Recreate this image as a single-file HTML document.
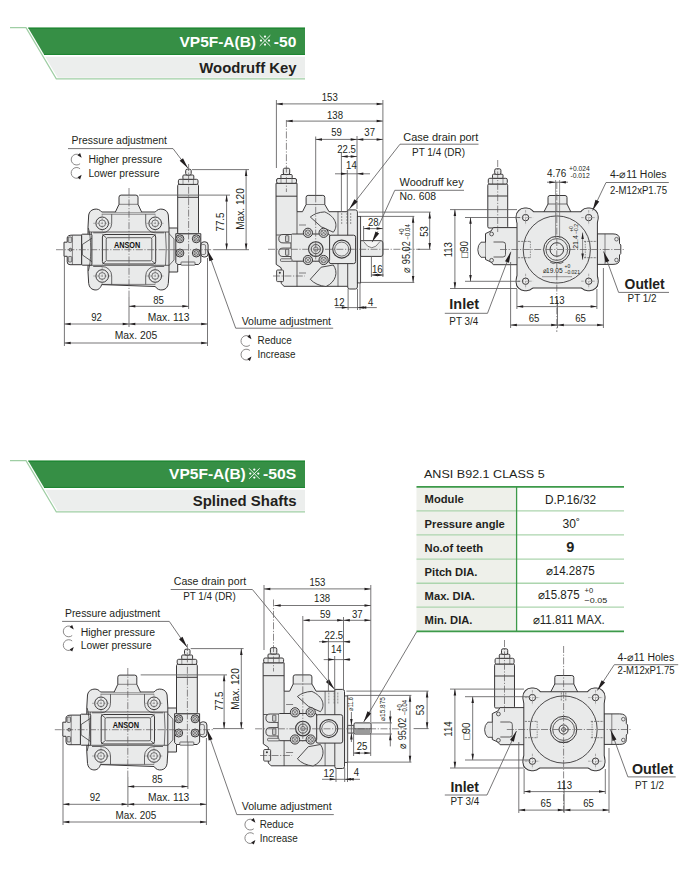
<!DOCTYPE html><html><head><meta charset="utf-8"><style>html,body{margin:0;padding:0;background:#fff}svg{display:block}text{font-family:"Liberation Sans",sans-serif}</style></head><body>
<svg width="700" height="870" viewBox="0 0 700 870">
<rect width="700" height="870" fill="#fff"/>
<g transform="translate(0 0)">
<polygon points="28,27.6 305,27.6 305,55 44.3,55" fill="#368f45"/>
<line x1="28.5" y1="28.3" x2="305" y2="28.3" stroke="#1c8631" stroke-width="1"/>
<line x1="44" y1="54.4" x2="305" y2="54.4" stroke="#1c8631" stroke-width="1"/>
<polygon points="45.3,56.8 305,56.8 305,77.8 57.8,77.8" fill="#eceeed"/>
<polyline points="10,27.6 26,27.6 56.3,78.9 305,78.9" fill="none" stroke="#9fcea4" stroke-width="1.2"/>
</g>
<g transform="translate(0 433)">
<polygon points="28,27.6 305,27.6 305,55 44.3,55" fill="#368f45"/>
<line x1="28.5" y1="28.3" x2="305" y2="28.3" stroke="#1c8631" stroke-width="1"/>
<line x1="44" y1="54.4" x2="305" y2="54.4" stroke="#1c8631" stroke-width="1"/>
<polygon points="45.3,56.8 305,56.8 305,77.8 57.8,77.8" fill="#eceeed"/>
<polyline points="10,27.6 26,27.6 56.3,78.9 305,78.9" fill="none" stroke="#9fcea4" stroke-width="1.2"/>
</g>
<text x="256" y="46.6" font-size="15.5" text-anchor="end" font-weight="bold" textLength="76.5" lengthAdjust="spacingAndGlyphs" fill="#ffffff">VP5F-A(B)</text>
<g stroke="#fff" stroke-width="0.9"><line x1="259.7" y1="35.300000000000004" x2="270.3" y2="45.9"/><line x1="259.7" y1="45.9" x2="270.3" y2="35.300000000000004"/></g>
<circle cx="265" cy="36.6" r="1.15" fill="#fff"/>
<circle cx="265" cy="44.6" r="1.15" fill="#fff"/>
<circle cx="261" cy="40.6" r="1.15" fill="#fff"/>
<circle cx="269" cy="40.6" r="1.15" fill="#fff"/>
<text x="296.3" y="46.6" font-size="15.5" text-anchor="end" font-weight="bold" textLength="22.5" lengthAdjust="spacingAndGlyphs" fill="#ffffff">-50</text>
<text x="296.5" y="73.2" font-size="15" text-anchor="end" font-weight="bold" textLength="97.2" lengthAdjust="spacingAndGlyphs" fill="#231f20">Woodruff Key</text>
<text x="245.8" y="479" font-size="15.5" text-anchor="end" font-weight="bold" textLength="76.7" lengthAdjust="spacingAndGlyphs" fill="#ffffff">VP5F-A(B)</text>
<g stroke="#fff" stroke-width="0.9"><line x1="249.0" y1="468.3" x2="259.6" y2="478.90000000000003"/><line x1="249.0" y1="478.90000000000003" x2="259.6" y2="468.3"/></g>
<circle cx="254.3" cy="469.6" r="1.15" fill="#fff"/>
<circle cx="254.3" cy="477.6" r="1.15" fill="#fff"/>
<circle cx="250.3" cy="473.6" r="1.15" fill="#fff"/>
<circle cx="258.3" cy="473.6" r="1.15" fill="#fff"/>
<text x="296.2" y="479" font-size="15.5" text-anchor="end" font-weight="bold" textLength="33.2" lengthAdjust="spacingAndGlyphs" fill="#ffffff">-50S</text>
<text x="296.5" y="506" font-size="15" text-anchor="end" font-weight="bold" textLength="103.8" lengthAdjust="spacingAndGlyphs" fill="#231f20">Splined Shafts</text>
<path d="M166,228 L177.7,228 L177.7,272 L168,272 L166,268 Z" fill="#e9eaea" stroke="#3a3839" stroke-width="1.0"/>
<path d="M168.5,233 L174,239 L174,260 L168.5,266" fill="none" stroke="#3a3839" stroke-width="0.7"/>
<path d="M101.7,212 L155.3,212 C157,209.5 160,208.6 163,209.3 C166,210 167.8,212 168.3,215 L169,227 L169,272 L168.3,283.5 C167.8,287 166,289.2 163,289.8 C160,290.4 157,289.5 155.3,286.5 L101.7,284.6 C100,289.5 97,290.4 94,289.8 C91,289.2 89.2,287 88.7,283.5 L88,272 L88,227 L88.7,215 C89.2,212 91,210 94,209.3 C97,208.6 100,209.5 101.7,212 Z" fill="#e9eaea" stroke="#3a3839" stroke-width="1.0"/>
<path d="M115.3,212.2 L119,204.3 L119,197.2 Q119,195.1 121.1,195.1 L135.9,195.1 Q138,195.1 138,197.2 L138,204.3 L141.7,212.2" fill="#e9eaea" stroke="#3a3839" stroke-width="1.0"/>
<line x1="119" y1="204.3" x2="138" y2="204.3" stroke="#3a3839" stroke-width="0.6"/>
<line x1="88" y1="232" x2="169" y2="232" stroke="#3a3839" stroke-width="0.8"/>
<line x1="88" y1="265.3" x2="169" y2="265.3" stroke="#3a3839" stroke-width="0.8"/>
<path d="M91.5,232 Q90,248.6 91.5,265.3" fill="none" stroke="#3a3839" stroke-width="0.7"/>
<path d="M165.5,232 Q167,248.6 165.5,265.3" fill="none" stroke="#3a3839" stroke-width="0.7"/>
<rect x="81.6" y="234.2" width="10.3" height="31" rx="1" fill="#e9eaea" stroke="#3a3839" stroke-width="1.0"/>
<path d="M91.9,238.2 L82.3,244.5 L82.3,254.9 L91.9,261.6" fill="none" stroke="#3a3839" stroke-width="0.8"/>
<path d="M81.6,235.1 L72.4,235.1 L72.4,235.1 Q67.2,235.1 67.2,238 L67.2,242.2 L64,242.2 L64,256.3 L67.2,256.3 L67.2,261.8 Q67.2,264.7 70,264.7 L81.6,264.7 Z" fill="#e9eaea" stroke="#3a3839" stroke-width="1.0"/>
<line x1="72.4" y1="235.1" x2="72.4" y2="264.7" stroke="#3a3839" stroke-width="0.6"/>
<rect x="68.2" y="237" width="3.6" height="5.5" rx="1" fill="#cfd0d0" stroke="#3a3839" stroke-width="0.7"/>
<rect x="68.2" y="256.5" width="3.6" height="5.5" rx="1" fill="#cfd0d0" stroke="#3a3839" stroke-width="0.7"/>
<circle cx="70.4" cy="249.7" r="1.4" fill="none" stroke="#3a3839" stroke-width="0.9"/>
<path d="M88.3,228 Q90.5,234 90.8,249.7 Q90.5,265 88.3,271" fill="none" stroke="#3a3839" stroke-width="0.8"/>
<line x1="101.7" y1="214.2" x2="155.3" y2="214.2" stroke="#3a3839" stroke-width="0.6"/>
<line x1="101.7" y1="284.4" x2="155.3" y2="284.4" stroke="#3a3839" stroke-width="0.6"/>
<circle cx="102.2" cy="223.3" r="6.3" fill="none" stroke="#3a3839" stroke-width="1.0"/>
<circle cx="102.2" cy="223.3" r="3.4" fill="none" stroke="#3a3839" stroke-width="0.7"/>
<line x1="93.2" y1="223.3" x2="111.2" y2="223.3" stroke="#6a6a6a" stroke-width="0.5" stroke-dasharray="2.5 1.2"/>
<line x1="102.2" y1="214.3" x2="102.2" y2="232.3" stroke="#6a6a6a" stroke-width="0.5" stroke-dasharray="2.5 1.2"/>
<path d="M111.7,214.2 L111.7,223.3 A9.5,9.5 0 0 1 102.2,232.8 L93.2,232.8" fill="none" stroke="#3a3839" stroke-width="0.75"/>
<circle cx="155.2" cy="223.3" r="6.3" fill="none" stroke="#3a3839" stroke-width="1.0"/>
<circle cx="155.2" cy="223.3" r="3.4" fill="none" stroke="#3a3839" stroke-width="0.7"/>
<line x1="146.2" y1="223.3" x2="164.2" y2="223.3" stroke="#6a6a6a" stroke-width="0.5" stroke-dasharray="2.5 1.2"/>
<line x1="155.2" y1="214.3" x2="155.2" y2="232.3" stroke="#6a6a6a" stroke-width="0.5" stroke-dasharray="2.5 1.2"/>
<path d="M145.7,214.2 L145.7,223.3 A9.5,9.5 0 0 0 155.2,232.8 L164.2,232.8" fill="none" stroke="#3a3839" stroke-width="0.75"/>
<circle cx="102.2" cy="276" r="6.3" fill="none" stroke="#3a3839" stroke-width="1.0"/>
<circle cx="102.2" cy="276" r="3.4" fill="none" stroke="#3a3839" stroke-width="0.7"/>
<line x1="93.2" y1="276" x2="111.2" y2="276" stroke="#6a6a6a" stroke-width="0.5" stroke-dasharray="2.5 1.2"/>
<line x1="102.2" y1="267" x2="102.2" y2="285" stroke="#6a6a6a" stroke-width="0.5" stroke-dasharray="2.5 1.2"/>
<path d="M111.7,284.4 L111.7,276 A9.5,9.5 0 0 0 102.2,266.5 L93.2,266.5" fill="none" stroke="#3a3839" stroke-width="0.75"/>
<circle cx="155.2" cy="276" r="6.3" fill="none" stroke="#3a3839" stroke-width="1.0"/>
<circle cx="155.2" cy="276" r="3.4" fill="none" stroke="#3a3839" stroke-width="0.7"/>
<line x1="146.2" y1="276" x2="164.2" y2="276" stroke="#6a6a6a" stroke-width="0.5" stroke-dasharray="2.5 1.2"/>
<line x1="155.2" y1="267" x2="155.2" y2="285" stroke="#6a6a6a" stroke-width="0.5" stroke-dasharray="2.5 1.2"/>
<path d="M145.7,284.4 L145.7,276 A9.5,9.5 0 0 1 155.2,266.5 L164.2,266.5" fill="none" stroke="#3a3839" stroke-width="0.75"/>
<rect x="102.4" y="234.5" width="53.3" height="29.5" rx="2.5" fill="#e9eaea" stroke="#3a3839" stroke-width="1.0"/>
<rect x="106.2" y="237.7" width="45.6" height="23.1" rx="1.5" fill="none" stroke="#3a3839" stroke-width="0.8"/>
<line x1="102.4" y1="234.5" x2="106.2" y2="237.7" stroke="#3a3839" stroke-width="0.8"/>
<line x1="155.7" y1="234.5" x2="151.8" y2="237.7" stroke="#3a3839" stroke-width="0.8"/>
<line x1="102.4" y1="264" x2="106.2" y2="260.8" stroke="#3a3839" stroke-width="0.8"/>
<line x1="155.7" y1="264" x2="151.8" y2="260.8" stroke="#3a3839" stroke-width="0.8"/>
<text x="127.1" y="247.5" font-size="8.8" text-anchor="middle" font-weight="bold" textLength="26.4" lengthAdjust="spacingAndGlyphs" fill="#111111">ANSON</text>
<path d="M175.8,233.7 L200.8,233.7 L200.8,262 L198.5,264.5 L177.8,264.5 L175.8,262.5 Z" fill="#e9eaea" stroke="#3a3839" stroke-width="1.0"/>
<rect x="181" y="262" width="14" height="3.2" rx="0.6" fill="#e9eaea" stroke="#3a3839" stroke-width="0.7"/>
<rect x="177.7" y="184.4" width="20.8" height="49.3" rx="1.2" fill="#e9eaea" stroke="#3a3839" stroke-width="1.0"/>
<line x1="177.7" y1="197.3" x2="198.5" y2="197.3" stroke="#3a3839" stroke-width="1.0"/>
<rect x="178.4" y="179.3" width="19.6" height="5.1" rx="1.5" fill="#e9eaea" stroke="#3a3839" stroke-width="1.0"/>
<line x1="183" y1="179.3" x2="183" y2="184.4" stroke="#3a3839" stroke-width="0.5"/>
<line x1="193.4" y1="179.3" x2="193.4" y2="184.4" stroke="#3a3839" stroke-width="0.5"/>
<rect x="182.9" y="175" width="10.9" height="4.3" rx="1" fill="#e9eaea" stroke="#3a3839" stroke-width="1.0"/>
<rect x="185.7" y="169.2" width="5.5" height="5.8" rx="1.5" fill="#e9eaea" stroke="#3a3839" stroke-width="1.0"/>
<circle cx="179.9" cy="238.8" r="4.0" fill="#d6d7d7" stroke="#3a3839" stroke-width="1.0"/>
<circle cx="179.9" cy="238.8" r="2.4" fill="none" stroke="#3a3839" stroke-width="0.6"/>
<line x1="177.9" y1="236.8" x2="181.9" y2="240.8" stroke="#3a3839" stroke-width="0.5"/>
<line x1="177.9" y1="240.8" x2="181.9" y2="236.8" stroke="#3a3839" stroke-width="0.5"/>
<circle cx="196.3" cy="238.8" r="4.0" fill="#d6d7d7" stroke="#3a3839" stroke-width="1.0"/>
<circle cx="196.3" cy="238.8" r="2.4" fill="none" stroke="#3a3839" stroke-width="0.6"/>
<line x1="194.3" y1="236.8" x2="198.3" y2="240.8" stroke="#3a3839" stroke-width="0.5"/>
<line x1="194.3" y1="240.8" x2="198.3" y2="236.8" stroke="#3a3839" stroke-width="0.5"/>
<circle cx="179.9" cy="253" r="4.0" fill="#d6d7d7" stroke="#3a3839" stroke-width="1.0"/>
<circle cx="179.9" cy="253" r="2.4" fill="none" stroke="#3a3839" stroke-width="0.6"/>
<line x1="177.9" y1="251.0" x2="181.9" y2="255.0" stroke="#3a3839" stroke-width="0.5"/>
<line x1="177.9" y1="255.0" x2="181.9" y2="251.0" stroke="#3a3839" stroke-width="0.5"/>
<circle cx="196.3" cy="253" r="4.0" fill="#d6d7d7" stroke="#3a3839" stroke-width="1.0"/>
<circle cx="196.3" cy="253" r="2.4" fill="none" stroke="#3a3839" stroke-width="0.6"/>
<line x1="194.3" y1="251.0" x2="198.3" y2="255.0" stroke="#3a3839" stroke-width="0.5"/>
<line x1="194.3" y1="255.0" x2="198.3" y2="251.0" stroke="#3a3839" stroke-width="0.5"/>
<rect x="200.8" y="241.8" width="7.3" height="15.2" rx="3.2" fill="#e9eaea" stroke="#3a3839" stroke-width="1.0"/>
<rect x="200.8" y="244.5" width="4.8" height="10" rx="1.5" fill="none" stroke="#3a3839" stroke-width="0.6"/>
<line x1="56" y1="249.7" x2="215" y2="249.7" stroke="#5a5859" stroke-width="0.7" stroke-dasharray="7 1.6 1.2 1.6"/>
<line x1="129" y1="188" x2="129" y2="297" stroke="#5a5859" stroke-width="0.7" stroke-dasharray="7 1.6 1.2 1.6"/>
<line x1="188.6" y1="164" x2="188.6" y2="262" stroke="#5a5859" stroke-width="0.7" stroke-dasharray="7 1.6 1.2 1.6"/>
<path d="M276,183.3 L297,183.3 L297,211.7 L302.5,211.7 L306.1,204.5 L306.1,197.4 Q306.1,195.4 308.1,195.4 L322.8,195.4 Q324.8,195.4 324.8,197.4 L324.8,204.5 L329,211.7 L347.7,211.7 L347.7,209.9 L355.4,209.9 Q357.4,209.9 357.4,211.9 L357.4,287 Q357.4,289 355.4,289 L349.7,289 Q347.7,289 347.7,287 L347.7,286.3 L284,286.3 L281.2,283.5 L281.2,267.8 L276.2,264.4 Z" fill="#e9eaea" stroke="#3a3839" stroke-width="1.0"/>
<line x1="306.1" y1="204.5" x2="324.8" y2="204.5" stroke="#3a3839" stroke-width="0.6"/>
<line x1="297" y1="211.7" x2="297" y2="286.5" stroke="#3a3839" stroke-width="0.8"/>
<line x1="347.7" y1="211.7" x2="347.7" y2="286.5" stroke="#3a3839" stroke-width="0.9"/>
<line x1="338" y1="211.7" x2="338" y2="235.2" stroke="#3a3839" stroke-width="0.7"/>
<line x1="338" y1="263.6" x2="338" y2="286.5" stroke="#3a3839" stroke-width="0.7"/>
<line x1="276.2" y1="235" x2="291" y2="235" stroke="#3a3839" stroke-width="0.8"/>
<rect x="357.4" y="216.4" width="3.2" height="66.5" rx="0" fill="#e9eaea" stroke="#3a3839" stroke-width="0.9"/>
<rect x="276.6" y="178.5" width="19.9" height="4.8" rx="1.5" fill="#e9eaea" stroke="#3a3839" stroke-width="1.0"/>
<line x1="281" y1="178.5" x2="281" y2="183.3" stroke="#3a3839" stroke-width="0.5"/>
<line x1="292" y1="178.5" x2="292" y2="183.3" stroke="#3a3839" stroke-width="0.5"/>
<rect x="280.9" y="174.5" width="11.3" height="4" rx="1" fill="#e9eaea" stroke="#3a3839" stroke-width="1.0"/>
<rect x="283.3" y="168.2" width="6.4" height="6.3" rx="1.5" fill="#e9eaea" stroke="#3a3839" stroke-width="1.0"/>
<line x1="276" y1="196.2" x2="297" y2="196.2" stroke="#3a3839" stroke-width="1.0"/>
<path d="M310.3,217 Q316,212.3 324.8,211.9 C336,217 338.5,226 333.3,232.2 L321.2,226.8 Z" fill="#e9eaea" stroke="#3a3839" stroke-width="0.9"/>
<path d="M310.3,279.3 Q316,285.5 326,286.5 C336,282 338.5,272 333.3,265 L321.2,267.2 Z" fill="#e9eaea" stroke="#3a3839" stroke-width="0.9"/>
<line x1="299" y1="225" x2="306" y2="225" stroke="#3a3839" stroke-width="0.6"/>
<line x1="299" y1="273" x2="306" y2="273" stroke="#3a3839" stroke-width="0.6"/>
<rect x="329" y="235.2" width="26.6" height="28.4" rx="2" fill="#e9eaea" stroke="#3a3839" stroke-width="1.0"/>
<circle cx="341.7" cy="249.1" r="9" fill="#e9eaea" stroke="#3a3839" stroke-width="1.1"/>
<circle cx="341.7" cy="249.1" r="7" fill="none" stroke="#3a3839" stroke-width="0.7"/>
<rect x="291" y="234" width="38.6" height="27.2" rx="1.5" fill="#e9eaea" stroke="#3a3839" stroke-width="1.0"/>
<path d="M291,234.5 L283,234.5 Q278.8,234.5 278.8,238.7 Q278.8,242.89999999999998 283,242.89999999999998 L291,242.89999999999998" fill="#e9eaea" stroke="#3a3839" stroke-width="0.9"/>
<rect x="285.5" y="235.7" width="3.3" height="6" rx="0.5" fill="#cfd0d0" stroke="#3a3839" stroke-width="0.7"/>
<path d="M291,248.10000000000002 L283,248.10000000000002 Q278.8,248.10000000000002 278.8,252.3 Q278.8,256.5 283,256.5 L291,256.5" fill="#e9eaea" stroke="#3a3839" stroke-width="0.9"/>
<rect x="285.5" y="249.3" width="3.3" height="6" rx="0.5" fill="#cfd0d0" stroke="#3a3839" stroke-width="0.7"/>
<rect x="280.5" y="258.8" width="11.5" height="2.6" rx="0.8" fill="#e9eaea" stroke="#3a3839" stroke-width="0.7"/>
<circle cx="315.8" cy="249.1" r="7.3" fill="#dcdddd" stroke="#3a3839" stroke-width="1.1"/>
<circle cx="315.8" cy="249.1" r="4.6" fill="none" stroke="#3a3839" stroke-width="0.8"/>
<circle cx="315.8" cy="249.1" r="2.2" fill="none" stroke="#3a3839" stroke-width="0.6"/>
<circle cx="307.9" cy="232.8" r="4.6" fill="#d6d7d7" stroke="#3a3839" stroke-width="1.0"/>
<circle cx="307.9" cy="232.8" r="2.76" fill="none" stroke="#3a3839" stroke-width="0.6"/>
<line x1="305.59999999999997" y1="230.5" x2="310.2" y2="235.10000000000002" stroke="#3a3839" stroke-width="0.5"/>
<line x1="305.59999999999997" y1="235.10000000000002" x2="310.2" y2="230.5" stroke="#3a3839" stroke-width="0.5"/>
<circle cx="323.6" cy="232.8" r="4.6" fill="#d6d7d7" stroke="#3a3839" stroke-width="1.0"/>
<circle cx="323.6" cy="232.8" r="2.76" fill="none" stroke="#3a3839" stroke-width="0.6"/>
<line x1="321.3" y1="230.5" x2="325.90000000000003" y2="235.10000000000002" stroke="#3a3839" stroke-width="0.5"/>
<line x1="321.3" y1="235.10000000000002" x2="325.90000000000003" y2="230.5" stroke="#3a3839" stroke-width="0.5"/>
<circle cx="307.9" cy="260" r="4.6" fill="#d6d7d7" stroke="#3a3839" stroke-width="1.0"/>
<circle cx="307.9" cy="260" r="2.76" fill="none" stroke="#3a3839" stroke-width="0.6"/>
<line x1="305.59999999999997" y1="257.7" x2="310.2" y2="262.3" stroke="#3a3839" stroke-width="0.5"/>
<line x1="305.59999999999997" y1="262.3" x2="310.2" y2="257.7" stroke="#3a3839" stroke-width="0.5"/>
<circle cx="323.6" cy="260" r="4.6" fill="#d6d7d7" stroke="#3a3839" stroke-width="1.0"/>
<circle cx="323.6" cy="260" r="2.76" fill="none" stroke="#3a3839" stroke-width="0.6"/>
<line x1="321.3" y1="257.7" x2="325.90000000000003" y2="262.3" stroke="#3a3839" stroke-width="0.5"/>
<line x1="321.3" y1="262.3" x2="325.90000000000003" y2="257.7" stroke="#3a3839" stroke-width="0.5"/>
<rect x="276.6" y="270" width="6.9" height="11.6" rx="1" fill="#e9eaea" stroke="#3a3839" stroke-width="0.9"/>
<circle cx="279.8" cy="272.8" r="1" fill="#333" stroke="#3a3839" stroke-width="0"/>
<line x1="341.7" y1="213" x2="341.7" y2="225" stroke="#555" stroke-width="0.6" stroke-dasharray="2 1"/>
<line x1="347" y1="213" x2="347" y2="225" stroke="#555" stroke-width="0.6" stroke-dasharray="2 1"/>
<line x1="350.7" y1="213" x2="350.7" y2="225" stroke="#555" stroke-width="0.6" stroke-dasharray="2 1"/>
<path d="M360.6,240.7 L381,240.7 Q382.9,240.7 382.9,243 L382.9,254 Q382.9,256.4 381,256.4 L360.6,256.4 Z" fill="#e9eaea" stroke="#3a3839" stroke-width="1.0"/>
<path d="M363.6,241.5 Q371.8,254 380,241.5" fill="#f4f4f4" stroke="#3a3839" stroke-width="0.6"/>
<line x1="268" y1="249.3" x2="420" y2="249.3" stroke="#5a5859" stroke-width="0.7" stroke-dasharray="7 1.6 1.2 1.6"/>
<line x1="286.4" y1="120" x2="286.4" y2="192" stroke="#5a5859" stroke-width="0.7" stroke-dasharray="7 1.6 1.2 1.6"/>
<line x1="315.7" y1="136.5" x2="315.7" y2="195.4" stroke="#5f5d5e" stroke-width="0.85"/>
<line x1="315.7" y1="195.4" x2="315.7" y2="262" stroke="#5a5859" stroke-width="0.7" stroke-dasharray="7 1.6 1.2 1.6"/>
<line x1="273" y1="276" x2="305" y2="276" stroke="#5a5859" stroke-width="0.7" stroke-dasharray="7 1.6 1.2 1.6"/>
<rect x="487.8" y="184" width="19.9" height="44" rx="1.2" fill="#e9eaea" stroke="#3a3839" stroke-width="1.0"/>
<line x1="487.8" y1="196" x2="507.7" y2="196" stroke="#3a3839" stroke-width="1.0"/>
<rect x="488.3" y="178.3" width="19" height="5.7" rx="1.5" fill="#e9eaea" stroke="#3a3839" stroke-width="1.0"/>
<line x1="492.6" y1="178.3" x2="492.6" y2="184" stroke="#3a3839" stroke-width="0.5"/>
<line x1="503" y1="178.3" x2="503" y2="184" stroke="#3a3839" stroke-width="0.5"/>
<rect x="492.5" y="174.2" width="10.5" height="4.1" rx="1" fill="#e9eaea" stroke="#3a3839" stroke-width="1.0"/>
<rect x="494.7" y="168.8" width="6.2" height="5.6" rx="1.5" fill="#e9eaea" stroke="#3a3839" stroke-width="1.0"/>
<path d="M493.3,227.6 L518,227.6 L518,264.7 L493.3,264.7 L491,262 L485.5,259.5 L485.5,233.6 L491,231 Z" fill="#e9eaea" stroke="#3a3839" stroke-width="1.0"/>
<path d="M493.5,242 L503,242 Q505.5,242 505.5,244.5 L505.5,254.5 Q505.5,257 503,257 L493.5,257" fill="none" stroke="#3a3839" stroke-width="0.8"/>
<path d="M485.5,242.2 L481,242.2 Q477.8,245 477.8,249.7 Q477.8,254.5 481,257.3 L485.5,257.3" fill="#e9eaea" stroke="#3a3839" stroke-width="0.9"/>
<circle cx="491.6" cy="234" r="1.9" fill="#e9eaea" stroke="#3a3839" stroke-width="0.8"/>
<circle cx="491.6" cy="260.3" r="1.9" fill="#e9eaea" stroke="#3a3839" stroke-width="0.8"/>
<path d="M597,233.9 L613,233.9 Q619.5,233.9 619.5,239 L619.5,243.5 L620.8,245 L620.8,253.5 L619.5,255 L619.5,259.5 Q619.5,264.4 613,264.4 L597,264.4 Z" fill="#e9eaea" stroke="#3a3839" stroke-width="1.0"/>
<circle cx="616.5" cy="239.2" r="1.8" fill="none" stroke="#3a3839" stroke-width="0.7"/>
<circle cx="616.5" cy="260" r="1.8" fill="none" stroke="#3a3839" stroke-width="0.7"/>
<line x1="605" y1="233.9" x2="605" y2="264.4" stroke="#3a3839" stroke-width="0.6"/>
<path d="M543.7,212.3 L548,204 L548,197.5 Q548,195.5 550,195.5 L565,195.5 Q567,195.5 567,197.5 L567,204 L571.1,212.3" fill="#e9eaea" stroke="#3a3839" stroke-width="1.0"/>
<line x1="548" y1="204" x2="567" y2="204" stroke="#3a3839" stroke-width="0.7"/>
<rect x="517.5" y="212.2" width="79.4" height="75.3" rx="3" fill="#3a3839" stroke="#3a3839" stroke-width="2.0"/>
<rect x="516.6" y="208.6" width="18" height="18" rx="8" fill="#3a3839" stroke="#3a3839" stroke-width="2.0"/>
<rect x="579.7" y="208.6" width="18" height="18" rx="8" fill="#3a3839" stroke="#3a3839" stroke-width="2.0"/>
<rect x="516.6" y="272.2" width="18" height="18" rx="8" fill="#3a3839" stroke="#3a3839" stroke-width="2.0"/>
<rect x="579.7" y="272.2" width="18" height="18" rx="8" fill="#3a3839" stroke="#3a3839" stroke-width="2.0"/>
<rect x="517.5" y="212.2" width="79.4" height="75.3" rx="3" fill="#e9eaea" stroke="none" stroke-width="0"/>
<rect x="516.6" y="208.6" width="18" height="18" rx="8" fill="#e9eaea" stroke="none" stroke-width="0"/>
<rect x="579.7" y="208.6" width="18" height="18" rx="8" fill="#e9eaea" stroke="none" stroke-width="0"/>
<rect x="516.6" y="272.2" width="18" height="18" rx="8" fill="#e9eaea" stroke="none" stroke-width="0"/>
<rect x="579.7" y="272.2" width="18" height="18" rx="8" fill="#e9eaea" stroke="none" stroke-width="0"/>
<circle cx="525.6" cy="217.6" r="3.2" fill="#f3f3f3" stroke="#3a3839" stroke-width="1.0"/>
<line x1="518.1" y1="217.6" x2="533.1" y2="217.6" stroke="#666" stroke-width="0.5" stroke-dasharray="2.5 1.2"/>
<line x1="525.6" y1="210.1" x2="525.6" y2="225.1" stroke="#666" stroke-width="0.5" stroke-dasharray="2.5 1.2"/>
<circle cx="588.7" cy="217.6" r="3.2" fill="#f3f3f3" stroke="#3a3839" stroke-width="1.0"/>
<line x1="581.2" y1="217.6" x2="596.2" y2="217.6" stroke="#666" stroke-width="0.5" stroke-dasharray="2.5 1.2"/>
<line x1="588.7" y1="210.1" x2="588.7" y2="225.1" stroke="#666" stroke-width="0.5" stroke-dasharray="2.5 1.2"/>
<circle cx="525.6" cy="281.2" r="3.2" fill="#f3f3f3" stroke="#3a3839" stroke-width="1.0"/>
<line x1="518.1" y1="281.2" x2="533.1" y2="281.2" stroke="#666" stroke-width="0.5" stroke-dasharray="2.5 1.2"/>
<line x1="525.6" y1="273.7" x2="525.6" y2="288.7" stroke="#666" stroke-width="0.5" stroke-dasharray="2.5 1.2"/>
<circle cx="588.7" cy="281.2" r="3.2" fill="#f3f3f3" stroke="#3a3839" stroke-width="1.0"/>
<line x1="581.2" y1="281.2" x2="596.2" y2="281.2" stroke="#666" stroke-width="0.5" stroke-dasharray="2.5 1.2"/>
<line x1="588.7" y1="273.7" x2="588.7" y2="288.7" stroke="#666" stroke-width="0.5" stroke-dasharray="2.5 1.2"/>
<circle cx="556.8" cy="249.5" r="33.6" fill="none" stroke="#3a3839" stroke-width="0.9"/>
<circle cx="556.8" cy="249.5" r="13.2" fill="#e9eaea" stroke="#3a3839" stroke-width="1.0"/>
<circle cx="556.8" cy="249.5" r="10.9" fill="none" stroke="#3a3839" stroke-width="0.8"/>
<circle cx="556.8" cy="249.5" r="6.8" fill="#e9eaea" stroke="#3a3839" stroke-width="1.0"/>
<line x1="518" y1="241.4" x2="531" y2="241.4" stroke="#555" stroke-width="0.7" stroke-dasharray="2.2 1"/>
<line x1="584" y1="241.4" x2="597" y2="241.4" stroke="#555" stroke-width="0.7" stroke-dasharray="2.2 1"/>
<line x1="518" y1="257.7" x2="531" y2="257.7" stroke="#555" stroke-width="0.7" stroke-dasharray="2.2 1"/>
<line x1="584" y1="257.7" x2="597" y2="257.7" stroke="#555" stroke-width="0.7" stroke-dasharray="2.2 1"/>
<line x1="530.4" y1="241.4" x2="530.4" y2="257.7" stroke="#555" stroke-width="0.6" stroke-dasharray="1.5 1"/>
<line x1="585.3" y1="241.4" x2="585.3" y2="257.7" stroke="#555" stroke-width="0.6" stroke-dasharray="1.5 1"/>
<line x1="555.6" y1="180" x2="555.6" y2="238" stroke="#666" stroke-width="0.7"/>
<line x1="559.6" y1="180" x2="559.6" y2="238" stroke="#666" stroke-width="0.7"/>
<line x1="582.6" y1="232.6" x2="582.6" y2="259.7" stroke="#5f5d5e" stroke-width="0.7"/>
<polygon points="582.60,232.60 581.35,238.90 583.85,238.90" fill="#231f20"/>
<polygon points="582.60,259.70 583.85,253.40 581.35,253.40" fill="#231f20"/>
<text x="577.5" y="242" font-size="7.49" text-anchor="middle" textLength="13.62" lengthAdjust="spacingAndGlyphs" transform="rotate(-90 577.5 242)" fill="#231f20">21.4</text>
<text x="572.5" y="229" font-size="5.35" text-anchor="middle" textLength="5.7" lengthAdjust="spacingAndGlyphs" transform="rotate(-90 572.5 229)" fill="#231f20">+0</text>
<text x="577.5" y="229" font-size="5.35" text-anchor="middle" textLength="9.87" lengthAdjust="spacingAndGlyphs" transform="rotate(-90 577.5 229)" fill="#231f20">−0.2</text>
<text x="542.6" y="272.6" font-size="7.49" textLength="20" lengthAdjust="spacingAndGlyphs" fill="#231f20">⌀19.05</text>
<text x="564.5" y="268" font-size="5.35" textLength="5.7" lengthAdjust="spacingAndGlyphs" fill="#231f20">+0</text>
<text x="564.5" y="273.5" font-size="5.35" textLength="15.43" lengthAdjust="spacingAndGlyphs" fill="#231f20">−0.021</text>
<line x1="542" y1="276.7" x2="572" y2="276.7" stroke="#5f5d5e" stroke-width="0.6"/>
<path d="M550,262 Q553,265 556.8,262.5 Q560.5,265 563.5,262" fill="none" stroke="#3a3839" stroke-width="0.7"/>
<line x1="500" y1="249.5" x2="625" y2="249.5" stroke="#5a5859" stroke-width="0.7" stroke-dasharray="7 1.6 1.2 1.6"/>
<line x1="556.8" y1="182" x2="556.8" y2="332" stroke="#5a5859" stroke-width="0.7" stroke-dasharray="7 1.6 1.2 1.6"/>
<line x1="497.7" y1="160" x2="497.7" y2="232" stroke="#5a5859" stroke-width="0.7" stroke-dasharray="7 1.6 1.2 1.6"/>
<text x="71.6" y="144" font-size="10.59" textLength="95.4" lengthAdjust="spacingAndGlyphs" fill="#231f20">Pressure adjustment</text>
<polyline points="68,148.6 173,148.6 188,168.3" fill="none" stroke="#5f5d5e" stroke-width="0.85"/>
<polygon points="188.00,168.30 183.01,158.28 179.67,160.82" fill="#231f20"/>
<path d="M80.86,156.28 A5.4,5.4 0 1 0 80.07,163.74" fill="none" stroke="#858383" stroke-width="0.95"/>
<polygon points="81.67,157.75 80.10,153.11 77.46,155.25" fill="#231f20"/>
<text x="88.4" y="163.4" font-size="10.59" textLength="74" lengthAdjust="spacingAndGlyphs" fill="#231f20">Higher pressure</text>
<path d="M80.07,168.76 A5.4,5.4 0 1 0 80.86,176.22" fill="none" stroke="#858383" stroke-width="0.95"/>
<polygon points="81.67,174.75 77.46,177.25 80.10,179.39" fill="#231f20"/>
<text x="88.4" y="177" font-size="10.59" textLength="71" lengthAdjust="spacingAndGlyphs" fill="#231f20">Lower pressure</text>
<line x1="64.4" y1="256.5" x2="64.4" y2="346" stroke="#5f5d5e" stroke-width="0.85"/>
<line x1="207.5" y1="258" x2="207.5" y2="346" stroke="#5f5d5e" stroke-width="0.85"/>
<line x1="188.6" y1="262" x2="188.6" y2="309" stroke="#5f5d5e" stroke-width="0.85"/>
<line x1="129" y1="297" x2="129" y2="327" stroke="#5f5d5e" stroke-width="0.85"/>
<line x1="129" y1="306.3" x2="188.6" y2="306.3" stroke="#5f5d5e" stroke-width="0.85"/>
<polygon points="129.00,306.30 135.30,307.55 135.30,305.05" fill="#231f20"/>
<polygon points="188.60,306.30 182.30,305.05 182.30,307.55" fill="#231f20"/>
<text x="158.5" y="303.6" font-size="10.27" text-anchor="middle" textLength="10.68" lengthAdjust="spacingAndGlyphs" fill="#231f20">85</text>
<line x1="64.4" y1="324" x2="129" y2="324" stroke="#5f5d5e" stroke-width="0.85"/>
<polygon points="64.40,324.00 70.70,325.25 70.70,322.75" fill="#231f20"/>
<polygon points="129.00,324.00 122.70,322.75 122.70,325.25" fill="#231f20"/>
<text x="96.5" y="320.8" font-size="10.27" text-anchor="middle" textLength="10.68" lengthAdjust="spacingAndGlyphs" fill="#231f20">92</text>
<line x1="129" y1="324" x2="207.5" y2="324" stroke="#5f5d5e" stroke-width="0.85"/>
<polygon points="129.00,324.00 135.30,325.25 135.30,322.75" fill="#231f20"/>
<polygon points="207.50,324.00 201.20,322.75 201.20,325.25" fill="#231f20"/>
<text x="168.6" y="320.8" font-size="10.59" text-anchor="middle" textLength="41.6" lengthAdjust="spacingAndGlyphs" fill="#231f20">Max. 113</text>
<line x1="64.4" y1="343" x2="207.5" y2="343" stroke="#5f5d5e" stroke-width="0.85"/>
<polygon points="64.40,343.00 70.70,344.25 70.70,341.75" fill="#231f20"/>
<polygon points="207.50,343.00 201.20,341.75 201.20,344.25" fill="#231f20"/>
<text x="136" y="339" font-size="10.59" text-anchor="middle" textLength="42.6" lengthAdjust="spacingAndGlyphs" fill="#231f20">Max. 205</text>
<line x1="192" y1="169.6" x2="249" y2="169.6" stroke="#5f5d5e" stroke-width="0.85"/>
<line x1="139" y1="195.1" x2="230" y2="195.1" stroke="#5f5d5e" stroke-width="0.85"/>
<line x1="214" y1="249.7" x2="249" y2="249.7" stroke="#5f5d5e" stroke-width="0.85"/>
<line x1="226.6" y1="195.1" x2="226.6" y2="249.7" stroke="#5f5d5e" stroke-width="0.85"/>
<polygon points="226.60,195.10 225.35,201.40 227.85,201.40" fill="#231f20"/>
<polygon points="226.60,249.70 227.85,243.40 225.35,243.40" fill="#231f20"/>
<text x="224.4" y="222" font-size="10.27" text-anchor="middle" textLength="19" lengthAdjust="spacingAndGlyphs" transform="rotate(-90 224.4 222)" fill="#231f20">77.5</text>
<line x1="246.1" y1="169.6" x2="246.1" y2="249.7" stroke="#5f5d5e" stroke-width="0.85"/>
<polygon points="246.10,169.60 244.85,175.90 247.35,175.90" fill="#231f20"/>
<polygon points="246.10,249.70 247.35,243.40 244.85,243.40" fill="#231f20"/>
<text x="243.8" y="209" font-size="10.59" text-anchor="middle" textLength="41.7" lengthAdjust="spacingAndGlyphs" transform="rotate(-90 243.8 209)" fill="#231f20">Max. 120</text>
<polyline points="333.2,328.2 235.7,328.2 207.6,250.2" fill="none" stroke="#5f5d5e" stroke-width="0.85"/>
<polygon points="207.60,250.20 209.35,261.26 213.30,259.84" fill="#231f20"/>
<text x="241.7" y="325.4" font-size="10.59" textLength="89.3" lengthAdjust="spacingAndGlyphs" fill="#231f20">Volume adjustment</text>
<path d="M250.66,337.68 A5.4,5.4 0 1 0 249.87,345.14" fill="none" stroke="#858383" stroke-width="0.95"/>
<polygon points="251.47,339.15 249.90,334.51 247.26,336.65" fill="#231f20"/>
<text x="257.6" y="344.3" font-size="10.59" textLength="34.12" lengthAdjust="spacingAndGlyphs" fill="#231f20">Reduce</text>
<path d="M249.87,350.46 A5.4,5.4 0 1 0 250.66,357.92" fill="none" stroke="#858383" stroke-width="0.95"/>
<polygon points="251.47,356.45 247.26,358.95 249.90,361.09" fill="#231f20"/>
<text x="257.6" y="358.2" font-size="10.59" textLength="37.97" lengthAdjust="spacingAndGlyphs" fill="#231f20">Increase</text>
<line x1="276.4" y1="100" x2="276.4" y2="168" stroke="#5f5d5e" stroke-width="0.85"/>
<line x1="382.9" y1="100" x2="382.9" y2="277" stroke="#5f5d5e" stroke-width="0.85"/>
<line x1="357" y1="136" x2="357" y2="209" stroke="#5f5d5e" stroke-width="0.85"/>
<line x1="276.4" y1="103.9" x2="382.9" y2="103.9" stroke="#5f5d5e" stroke-width="0.85"/>
<polygon points="276.40,103.90 282.70,105.15 282.70,102.65" fill="#231f20"/>
<polygon points="382.90,103.90 376.60,102.65 376.60,105.15" fill="#231f20"/>
<text x="329.8" y="101.3" font-size="10.27" text-anchor="middle" textLength="16.02" lengthAdjust="spacingAndGlyphs" fill="#231f20">153</text>
<line x1="286.4" y1="121.1" x2="382.9" y2="121.1" stroke="#5f5d5e" stroke-width="0.85"/>
<polygon points="286.40,121.10 292.70,122.35 292.70,119.85" fill="#231f20"/>
<polygon points="382.90,121.10 376.60,119.85 376.60,122.35" fill="#231f20"/>
<text x="335" y="118.6" font-size="10.27" text-anchor="middle" textLength="16.02" lengthAdjust="spacingAndGlyphs" fill="#231f20">138</text>
<line x1="315.7" y1="139.4" x2="357" y2="139.4" stroke="#5f5d5e" stroke-width="0.85"/>
<polygon points="315.70,139.40 322.00,140.65 322.00,138.15" fill="#231f20"/>
<polygon points="357.00,139.40 350.70,138.15 350.70,140.65" fill="#231f20"/>
<line x1="357" y1="139.4" x2="382.9" y2="139.4" stroke="#5f5d5e" stroke-width="0.85"/>
<polygon points="357.00,139.40 363.30,140.65 363.30,138.15" fill="#231f20"/>
<polygon points="382.90,139.40 376.60,138.15 376.60,140.65" fill="#231f20"/>
<text x="336.6" y="135.5" font-size="10.27" text-anchor="middle" textLength="10.68" lengthAdjust="spacingAndGlyphs" fill="#231f20">59</text>
<text x="369.7" y="135.5" font-size="10.27" text-anchor="middle" textLength="10.68" lengthAdjust="spacingAndGlyphs" fill="#231f20">37</text>
<line x1="341.4" y1="153" x2="341.4" y2="212" stroke="#5f5d5e" stroke-width="0.85"/>
<line x1="347.3" y1="170" x2="347.3" y2="212" stroke="#5f5d5e" stroke-width="0.85"/>
<line x1="341.4" y1="156.5" x2="357" y2="156.5" stroke="#5f5d5e" stroke-width="0.85"/>
<polygon points="341.40,156.50 347.70,157.75 347.70,155.25" fill="#231f20"/>
<polygon points="357.00,156.50 350.70,155.25 350.70,157.75" fill="#231f20"/>
<text x="346.6" y="153.3" font-size="10.27" text-anchor="middle" textLength="18.6" lengthAdjust="spacingAndGlyphs" fill="#231f20">22.5</text>
<line x1="335" y1="173.8" x2="370" y2="173.8" stroke="#5f5d5e" stroke-width="0.85"/>
<polygon points="347.30,173.80 341.00,172.55 341.00,175.05" fill="#231f20"/>
<polygon points="357.00,173.80 363.30,175.05 363.30,172.55" fill="#231f20"/>
<text x="351.4" y="169.3" font-size="10.27" text-anchor="middle" textLength="10.68" lengthAdjust="spacingAndGlyphs" fill="#231f20">14</text>
<text x="403.3" y="141" font-size="10.59" textLength="75" lengthAdjust="spacingAndGlyphs" fill="#231f20">Case drain port</text>
<text x="412" y="155.7" font-size="10.59" textLength="53" lengthAdjust="spacingAndGlyphs" fill="#231f20">PT 1/4 (DR)</text>
<polyline points="478.5,144.2 400,144.2 349.3,209.1" fill="none" stroke="#5f5d5e" stroke-width="0.85"/>
<polygon points="349.30,209.10 357.73,201.72 354.42,199.14" fill="#231f20"/>
<text x="399.6" y="185.6" font-size="10.59" textLength="64" lengthAdjust="spacingAndGlyphs" fill="#231f20">Woodruff key</text>
<text x="399.6" y="199.7" font-size="10.59" textLength="36.4" lengthAdjust="spacingAndGlyphs" fill="#231f20">No. 608</text>
<polyline points="464,190.3 394.8,190.3 378.5,226" fill="none" stroke="#5f5d5e" stroke-width="0.85"/>
<line x1="358.6" y1="212.1" x2="430.7" y2="212.1" stroke="#5f5d5e" stroke-width="0.85"/>
<line x1="360.7" y1="216.4" x2="414.3" y2="216.4" stroke="#5f5d5e" stroke-width="0.85"/>
<line x1="360.7" y1="282.4" x2="414.3" y2="282.4" stroke="#5f5d5e" stroke-width="0.85"/>
<line x1="417.9" y1="249.3" x2="430.7" y2="249.3" stroke="#5f5d5e" stroke-width="0.85"/>
<line x1="429.7" y1="212.1" x2="429.7" y2="249.3" stroke="#5f5d5e" stroke-width="0.85"/>
<polygon points="429.70,212.10 428.45,218.40 430.95,218.40" fill="#231f20"/>
<polygon points="429.70,249.30 430.95,243.00 428.45,243.00" fill="#231f20"/>
<text x="428" y="231.4" font-size="10.27" text-anchor="middle" textLength="10.68" lengthAdjust="spacingAndGlyphs" transform="rotate(-90 428 231.4)" fill="#231f20">53</text>
<line x1="413.1" y1="216.4" x2="413.1" y2="282.4" stroke="#5f5d5e" stroke-width="0.85"/>
<polygon points="413.10,216.40 411.85,222.70 414.35,222.70" fill="#231f20"/>
<polygon points="413.10,282.40 414.35,276.10 411.85,276.10" fill="#231f20"/>
<text x="410" y="257" font-size="10.59" text-anchor="middle" textLength="31.5" lengthAdjust="spacingAndGlyphs" transform="rotate(-90 410 257)" fill="#231f20">⌀ 95.02</text>
<text x="404.5" y="231.8" font-size="6.42" text-anchor="middle" textLength="6.84" lengthAdjust="spacingAndGlyphs" transform="rotate(-90 404.5 231.8)" fill="#231f20">+0</text>
<text x="410.5" y="231.8" font-size="6.42" text-anchor="middle" textLength="15.18" lengthAdjust="spacingAndGlyphs" transform="rotate(-90 410.5 231.8)" fill="#231f20">−0.04</text>
<line x1="363.6" y1="226" x2="363.6" y2="241" stroke="#5f5d5e" stroke-width="0.85"/>
<line x1="363.6" y1="228.6" x2="382.9" y2="228.6" stroke="#5f5d5e" stroke-width="0.85"/>
<polygon points="363.60,228.60 369.90,229.85 369.90,227.35" fill="#231f20"/>
<polygon points="382.90,228.60 376.60,227.35 376.60,229.85" fill="#231f20"/>
<text x="373.3" y="225.7" font-size="10.27" text-anchor="middle" textLength="10.68" lengthAdjust="spacingAndGlyphs" fill="#231f20">28</text>
<polyline points="377.9,231.4 372.1,242.1" fill="none" stroke="#5f5d5e" stroke-width="0.85"/>
<polygon points="372.10,242.10 379.19,233.43 375.50,231.43" fill="#231f20"/>
<line x1="371.4" y1="256" x2="371.4" y2="277" stroke="#5f5d5e" stroke-width="0.85"/>
<line x1="371.4" y1="275" x2="383.6" y2="275" stroke="#5f5d5e" stroke-width="0.85"/>
<polygon points="371.40,275.00 377.70,276.25 377.70,273.75" fill="#231f20"/>
<polygon points="383.60,275.00 377.30,273.75 377.30,276.25" fill="#231f20"/>
<text x="377.3" y="272.9" font-size="10.27" text-anchor="middle" textLength="10.68" lengthAdjust="spacingAndGlyphs" fill="#231f20">16</text>
<line x1="348.1" y1="289" x2="348.1" y2="310" stroke="#5f5d5e" stroke-width="0.85"/>
<line x1="357.5" y1="289" x2="357.5" y2="310" stroke="#5f5d5e" stroke-width="0.85"/>
<line x1="360" y1="283" x2="360" y2="310" stroke="#5f5d5e" stroke-width="0.85"/>
<line x1="335.2" y1="307.6" x2="376.8" y2="307.6" stroke="#5f5d5e" stroke-width="0.85"/>
<polygon points="348.10,307.60 341.80,306.35 341.80,308.85" fill="#231f20"/>
<polygon points="357.50,307.60 363.80,308.85 363.80,306.35" fill="#231f20"/>
<polygon points="360.00,307.60 366.30,308.85 366.30,306.35" fill="#231f20"/>
<text x="339.2" y="306" font-size="10.27" text-anchor="middle" textLength="10.68" lengthAdjust="spacingAndGlyphs" fill="#231f20">12</text>
<text x="370.6" y="305.7" font-size="10.27" text-anchor="middle" textLength="5.34" lengthAdjust="spacingAndGlyphs" fill="#231f20">4</text>
<line x1="450" y1="209.6" x2="517" y2="209.6" stroke="#5f5d5e" stroke-width="0.85"/>
<line x1="465" y1="217.5" x2="520" y2="217.5" stroke="#5f5d5e" stroke-width="0.85"/>
<line x1="450" y1="288.5" x2="517" y2="288.5" stroke="#5f5d5e" stroke-width="0.85"/>
<line x1="465" y1="281.3" x2="520" y2="281.3" stroke="#5f5d5e" stroke-width="0.85"/>
<line x1="454.9" y1="209.6" x2="454.9" y2="288.5" stroke="#5f5d5e" stroke-width="0.85"/>
<polygon points="454.90,209.60 453.65,215.90 456.15,215.90" fill="#231f20"/>
<polygon points="454.90,288.50 456.15,282.20 453.65,282.20" fill="#231f20"/>
<text x="452.3" y="249.7" font-size="10.27" text-anchor="middle" textLength="15.31" lengthAdjust="spacingAndGlyphs" transform="rotate(-90 452.3 249.7)" fill="#231f20">113</text>
<line x1="470.5" y1="217.5" x2="470.5" y2="281.3" stroke="#5f5d5e" stroke-width="0.85"/>
<polygon points="470.50,217.50 469.25,223.80 471.75,223.80" fill="#231f20"/>
<polygon points="470.50,281.30 471.75,275.00 469.25,275.00" fill="#231f20"/>
<text x="467.9" y="249.4" font-size="10.59" text-anchor="middle" textLength="16.99" lengthAdjust="spacingAndGlyphs" transform="rotate(-90 467.9 249.4)" fill="#231f20">□90</text>
<line x1="516.9" y1="289" x2="516.9" y2="309" stroke="#5f5d5e" stroke-width="0.85"/>
<line x1="596.9" y1="289" x2="596.9" y2="309" stroke="#5f5d5e" stroke-width="0.85"/>
<line x1="510.6" y1="262" x2="510.6" y2="328" stroke="#5f5d5e" stroke-width="0.85"/>
<line x1="603.4" y1="268" x2="603.4" y2="328" stroke="#5f5d5e" stroke-width="0.85"/>
<line x1="557.5" y1="300" x2="557.5" y2="328" stroke="#5f5d5e" stroke-width="0.85"/>
<line x1="516.9" y1="306.6" x2="596.9" y2="306.6" stroke="#5f5d5e" stroke-width="0.85"/>
<polygon points="516.90,306.60 523.20,307.85 523.20,305.35" fill="#231f20"/>
<polygon points="596.90,306.60 590.60,305.35 590.60,307.85" fill="#231f20"/>
<text x="557" y="303.5" font-size="10.27" text-anchor="middle" textLength="15.31" lengthAdjust="spacingAndGlyphs" fill="#231f20">113</text>
<line x1="510.6" y1="325.1" x2="557.5" y2="325.1" stroke="#5f5d5e" stroke-width="0.85"/>
<polygon points="510.60,325.10 516.90,326.35 516.90,323.85" fill="#231f20"/>
<polygon points="557.50,325.10 551.20,323.85 551.20,326.35" fill="#231f20"/>
<line x1="557.5" y1="325.1" x2="603.4" y2="325.1" stroke="#5f5d5e" stroke-width="0.85"/>
<polygon points="557.50,325.10 563.80,326.35 563.80,323.85" fill="#231f20"/>
<polygon points="603.40,325.10 597.10,323.85 597.10,326.35" fill="#231f20"/>
<text x="534" y="322" font-size="10.27" text-anchor="middle" textLength="10.68" lengthAdjust="spacingAndGlyphs" fill="#231f20">65</text>
<text x="580.5" y="322" font-size="10.27" text-anchor="middle" textLength="10.68" lengthAdjust="spacingAndGlyphs" fill="#231f20">65</text>
<line x1="547" y1="182.2" x2="568" y2="182.2" stroke="#5f5d5e" stroke-width="0.85"/>
<polygon points="555.60,182.20 549.30,180.95 549.30,183.45" fill="#231f20"/>
<polygon points="559.60,182.20 565.90,183.45 565.90,180.95" fill="#231f20"/>
<text x="547" y="176.5" font-size="10.27" textLength="19.3" lengthAdjust="spacingAndGlyphs" fill="#231f20">4.76</text>
<text x="569" y="171.2" font-size="7.28" textLength="20.7" lengthAdjust="spacingAndGlyphs" fill="#231f20">+0.024</text>
<text x="570.4" y="178.4" font-size="7.28" textLength="19.3" lengthAdjust="spacingAndGlyphs" fill="#231f20">-0.012</text>
<text x="610" y="178" font-size="10.59" textLength="56.5" lengthAdjust="spacingAndGlyphs" fill="#231f20">4-⌀11 Holes</text>
<text x="610" y="194" font-size="10.59" textLength="57" lengthAdjust="spacingAndGlyphs" fill="#231f20">2-M12xP1.75</text>
<polyline points="668.8,182.5 606,182.5 592.6,210.5" fill="none" stroke="#5f5d5e" stroke-width="0.85"/>
<polygon points="592.60,210.50 599.24,201.48 595.45,199.67" fill="#231f20"/>
<text x="624.6" y="288.7" font-size="14" font-weight="bold" textLength="40.1" lengthAdjust="spacingAndGlyphs" fill="#231f20">Outlet</text>
<text x="627.6" y="301.7" font-size="10.59" textLength="28.99" lengthAdjust="spacingAndGlyphs" fill="#231f20">PT 1/2</text>
<polyline points="669,292.4 618.6,292.4 603.6,251.4" fill="none" stroke="#5f5d5e" stroke-width="0.85"/>
<polygon points="603.60,251.40 605.41,262.45 609.35,261.01" fill="#231f20"/>
<text x="449.3" y="309.2" font-size="14" font-weight="bold" textLength="29.7" lengthAdjust="spacingAndGlyphs" fill="#231f20">Inlet</text>
<text x="449.3" y="325.1" font-size="10.59" textLength="28.99" lengthAdjust="spacingAndGlyphs" fill="#231f20">PT 3/4</text>
<polyline points="444.8,313.3 487.5,313.3 510.9,251.8" fill="none" stroke="#5f5d5e" stroke-width="0.85"/>
<polygon points="510.90,251.80 505.03,261.33 508.95,262.83" fill="#231f20"/>
<g transform="translate(-1.2 480)">
<path d="M166,228 L177.7,228 L177.7,272 L168,272 L166,268 Z" fill="#e9eaea" stroke="#3a3839" stroke-width="1.0"/>
<path d="M168.5,233 L174,239 L174,260 L168.5,266" fill="none" stroke="#3a3839" stroke-width="0.7"/>
<path d="M101.7,212 L155.3,212 C157,209.5 160,208.6 163,209.3 C166,210 167.8,212 168.3,215 L169,227 L169,272 L168.3,283.5 C167.8,287 166,289.2 163,289.8 C160,290.4 157,289.5 155.3,286.5 L101.7,284.6 C100,289.5 97,290.4 94,289.8 C91,289.2 89.2,287 88.7,283.5 L88,272 L88,227 L88.7,215 C89.2,212 91,210 94,209.3 C97,208.6 100,209.5 101.7,212 Z" fill="#e9eaea" stroke="#3a3839" stroke-width="1.0"/>
<path d="M115.3,212.2 L119,204.3 L119,197.2 Q119,195.1 121.1,195.1 L135.9,195.1 Q138,195.1 138,197.2 L138,204.3 L141.7,212.2" fill="#e9eaea" stroke="#3a3839" stroke-width="1.0"/>
<line x1="119" y1="204.3" x2="138" y2="204.3" stroke="#3a3839" stroke-width="0.6"/>
<line x1="88" y1="232" x2="169" y2="232" stroke="#3a3839" stroke-width="0.8"/>
<line x1="88" y1="265.3" x2="169" y2="265.3" stroke="#3a3839" stroke-width="0.8"/>
<path d="M91.5,232 Q90,248.6 91.5,265.3" fill="none" stroke="#3a3839" stroke-width="0.7"/>
<path d="M165.5,232 Q167,248.6 165.5,265.3" fill="none" stroke="#3a3839" stroke-width="0.7"/>
<rect x="81.6" y="234.2" width="10.3" height="31" rx="1" fill="#e9eaea" stroke="#3a3839" stroke-width="1.0"/>
<path d="M91.9,238.2 L82.3,244.5 L82.3,254.9 L91.9,261.6" fill="none" stroke="#3a3839" stroke-width="0.8"/>
<path d="M81.6,235.1 L72.4,235.1 L72.4,235.1 Q67.2,235.1 67.2,238 L67.2,242.2 L64,242.2 L64,256.3 L67.2,256.3 L67.2,261.8 Q67.2,264.7 70,264.7 L81.6,264.7 Z" fill="#e9eaea" stroke="#3a3839" stroke-width="1.0"/>
<line x1="72.4" y1="235.1" x2="72.4" y2="264.7" stroke="#3a3839" stroke-width="0.6"/>
<rect x="68.2" y="237" width="3.6" height="5.5" rx="1" fill="#cfd0d0" stroke="#3a3839" stroke-width="0.7"/>
<rect x="68.2" y="256.5" width="3.6" height="5.5" rx="1" fill="#cfd0d0" stroke="#3a3839" stroke-width="0.7"/>
<circle cx="70.4" cy="249.7" r="1.4" fill="none" stroke="#3a3839" stroke-width="0.9"/>
<path d="M88.3,228 Q90.5,234 90.8,249.7 Q90.5,265 88.3,271" fill="none" stroke="#3a3839" stroke-width="0.8"/>
<line x1="101.7" y1="214.2" x2="155.3" y2="214.2" stroke="#3a3839" stroke-width="0.6"/>
<line x1="101.7" y1="284.4" x2="155.3" y2="284.4" stroke="#3a3839" stroke-width="0.6"/>
<circle cx="102.2" cy="223.3" r="6.3" fill="none" stroke="#3a3839" stroke-width="1.0"/>
<circle cx="102.2" cy="223.3" r="3.4" fill="none" stroke="#3a3839" stroke-width="0.7"/>
<line x1="93.2" y1="223.3" x2="111.2" y2="223.3" stroke="#6a6a6a" stroke-width="0.5" stroke-dasharray="2.5 1.2"/>
<line x1="102.2" y1="214.3" x2="102.2" y2="232.3" stroke="#6a6a6a" stroke-width="0.5" stroke-dasharray="2.5 1.2"/>
<path d="M111.7,214.2 L111.7,223.3 A9.5,9.5 0 0 1 102.2,232.8 L93.2,232.8" fill="none" stroke="#3a3839" stroke-width="0.75"/>
<circle cx="155.2" cy="223.3" r="6.3" fill="none" stroke="#3a3839" stroke-width="1.0"/>
<circle cx="155.2" cy="223.3" r="3.4" fill="none" stroke="#3a3839" stroke-width="0.7"/>
<line x1="146.2" y1="223.3" x2="164.2" y2="223.3" stroke="#6a6a6a" stroke-width="0.5" stroke-dasharray="2.5 1.2"/>
<line x1="155.2" y1="214.3" x2="155.2" y2="232.3" stroke="#6a6a6a" stroke-width="0.5" stroke-dasharray="2.5 1.2"/>
<path d="M145.7,214.2 L145.7,223.3 A9.5,9.5 0 0 0 155.2,232.8 L164.2,232.8" fill="none" stroke="#3a3839" stroke-width="0.75"/>
<circle cx="102.2" cy="276" r="6.3" fill="none" stroke="#3a3839" stroke-width="1.0"/>
<circle cx="102.2" cy="276" r="3.4" fill="none" stroke="#3a3839" stroke-width="0.7"/>
<line x1="93.2" y1="276" x2="111.2" y2="276" stroke="#6a6a6a" stroke-width="0.5" stroke-dasharray="2.5 1.2"/>
<line x1="102.2" y1="267" x2="102.2" y2="285" stroke="#6a6a6a" stroke-width="0.5" stroke-dasharray="2.5 1.2"/>
<path d="M111.7,284.4 L111.7,276 A9.5,9.5 0 0 0 102.2,266.5 L93.2,266.5" fill="none" stroke="#3a3839" stroke-width="0.75"/>
<circle cx="155.2" cy="276" r="6.3" fill="none" stroke="#3a3839" stroke-width="1.0"/>
<circle cx="155.2" cy="276" r="3.4" fill="none" stroke="#3a3839" stroke-width="0.7"/>
<line x1="146.2" y1="276" x2="164.2" y2="276" stroke="#6a6a6a" stroke-width="0.5" stroke-dasharray="2.5 1.2"/>
<line x1="155.2" y1="267" x2="155.2" y2="285" stroke="#6a6a6a" stroke-width="0.5" stroke-dasharray="2.5 1.2"/>
<path d="M145.7,284.4 L145.7,276 A9.5,9.5 0 0 1 155.2,266.5 L164.2,266.5" fill="none" stroke="#3a3839" stroke-width="0.75"/>
<rect x="102.4" y="234.5" width="53.3" height="29.5" rx="2.5" fill="#e9eaea" stroke="#3a3839" stroke-width="1.0"/>
<rect x="106.2" y="237.7" width="45.6" height="23.1" rx="1.5" fill="none" stroke="#3a3839" stroke-width="0.8"/>
<line x1="102.4" y1="234.5" x2="106.2" y2="237.7" stroke="#3a3839" stroke-width="0.8"/>
<line x1="155.7" y1="234.5" x2="151.8" y2="237.7" stroke="#3a3839" stroke-width="0.8"/>
<line x1="102.4" y1="264" x2="106.2" y2="260.8" stroke="#3a3839" stroke-width="0.8"/>
<line x1="155.7" y1="264" x2="151.8" y2="260.8" stroke="#3a3839" stroke-width="0.8"/>
<text x="127.1" y="247.5" font-size="8.8" text-anchor="middle" font-weight="bold" textLength="26.4" lengthAdjust="spacingAndGlyphs" fill="#111111">ANSON</text>
<path d="M175.8,233.7 L200.8,233.7 L200.8,262 L198.5,264.5 L177.8,264.5 L175.8,262.5 Z" fill="#e9eaea" stroke="#3a3839" stroke-width="1.0"/>
<rect x="181" y="262" width="14" height="3.2" rx="0.6" fill="#e9eaea" stroke="#3a3839" stroke-width="0.7"/>
<rect x="177.7" y="184.4" width="20.8" height="49.3" rx="1.2" fill="#e9eaea" stroke="#3a3839" stroke-width="1.0"/>
<line x1="177.7" y1="197.3" x2="198.5" y2="197.3" stroke="#3a3839" stroke-width="1.0"/>
<rect x="178.4" y="179.3" width="19.6" height="5.1" rx="1.5" fill="#e9eaea" stroke="#3a3839" stroke-width="1.0"/>
<line x1="183" y1="179.3" x2="183" y2="184.4" stroke="#3a3839" stroke-width="0.5"/>
<line x1="193.4" y1="179.3" x2="193.4" y2="184.4" stroke="#3a3839" stroke-width="0.5"/>
<rect x="182.9" y="175" width="10.9" height="4.3" rx="1" fill="#e9eaea" stroke="#3a3839" stroke-width="1.0"/>
<rect x="185.7" y="169.2" width="5.5" height="5.8" rx="1.5" fill="#e9eaea" stroke="#3a3839" stroke-width="1.0"/>
<circle cx="179.9" cy="238.8" r="4.0" fill="#d6d7d7" stroke="#3a3839" stroke-width="1.0"/>
<circle cx="179.9" cy="238.8" r="2.4" fill="none" stroke="#3a3839" stroke-width="0.6"/>
<line x1="177.9" y1="236.8" x2="181.9" y2="240.8" stroke="#3a3839" stroke-width="0.5"/>
<line x1="177.9" y1="240.8" x2="181.9" y2="236.8" stroke="#3a3839" stroke-width="0.5"/>
<circle cx="196.3" cy="238.8" r="4.0" fill="#d6d7d7" stroke="#3a3839" stroke-width="1.0"/>
<circle cx="196.3" cy="238.8" r="2.4" fill="none" stroke="#3a3839" stroke-width="0.6"/>
<line x1="194.3" y1="236.8" x2="198.3" y2="240.8" stroke="#3a3839" stroke-width="0.5"/>
<line x1="194.3" y1="240.8" x2="198.3" y2="236.8" stroke="#3a3839" stroke-width="0.5"/>
<circle cx="179.9" cy="253" r="4.0" fill="#d6d7d7" stroke="#3a3839" stroke-width="1.0"/>
<circle cx="179.9" cy="253" r="2.4" fill="none" stroke="#3a3839" stroke-width="0.6"/>
<line x1="177.9" y1="251.0" x2="181.9" y2="255.0" stroke="#3a3839" stroke-width="0.5"/>
<line x1="177.9" y1="255.0" x2="181.9" y2="251.0" stroke="#3a3839" stroke-width="0.5"/>
<circle cx="196.3" cy="253" r="4.0" fill="#d6d7d7" stroke="#3a3839" stroke-width="1.0"/>
<circle cx="196.3" cy="253" r="2.4" fill="none" stroke="#3a3839" stroke-width="0.6"/>
<line x1="194.3" y1="251.0" x2="198.3" y2="255.0" stroke="#3a3839" stroke-width="0.5"/>
<line x1="194.3" y1="255.0" x2="198.3" y2="251.0" stroke="#3a3839" stroke-width="0.5"/>
<rect x="200.8" y="241.8" width="7.3" height="15.2" rx="3.2" fill="#e9eaea" stroke="#3a3839" stroke-width="1.0"/>
<rect x="200.8" y="244.5" width="4.8" height="10" rx="1.5" fill="none" stroke="#3a3839" stroke-width="0.6"/>
<line x1="56" y1="249.7" x2="215" y2="249.7" stroke="#5a5859" stroke-width="0.7" stroke-dasharray="7 1.6 1.2 1.6"/>
<line x1="129" y1="188" x2="129" y2="297" stroke="#5a5859" stroke-width="0.7" stroke-dasharray="7 1.6 1.2 1.6"/>
<line x1="188.6" y1="164" x2="188.6" y2="262" stroke="#5a5859" stroke-width="0.7" stroke-dasharray="7 1.6 1.2 1.6"/>
</g>
<g transform="translate(-12.9 479.5)">
<path d="M276,183.3 L297,183.3 L297,211.7 L302.5,211.7 L306.1,204.5 L306.1,197.4 Q306.1,195.4 308.1,195.4 L322.8,195.4 Q324.8,195.4 324.8,197.4 L324.8,204.5 L329,211.7 L347.7,211.7 L347.7,209.9 L355.4,209.9 Q357.4,209.9 357.4,211.9 L357.4,287 Q357.4,289 355.4,289 L349.7,289 Q347.7,289 347.7,287 L347.7,286.3 L284,286.3 L281.2,283.5 L281.2,267.8 L276.2,264.4 Z" fill="#e9eaea" stroke="#3a3839" stroke-width="1.0"/>
<line x1="306.1" y1="204.5" x2="324.8" y2="204.5" stroke="#3a3839" stroke-width="0.6"/>
<line x1="297" y1="211.7" x2="297" y2="286.5" stroke="#3a3839" stroke-width="0.8"/>
<line x1="347.7" y1="211.7" x2="347.7" y2="286.5" stroke="#3a3839" stroke-width="0.9"/>
<line x1="338" y1="211.7" x2="338" y2="235.2" stroke="#3a3839" stroke-width="0.7"/>
<line x1="338" y1="263.6" x2="338" y2="286.5" stroke="#3a3839" stroke-width="0.7"/>
<line x1="276.2" y1="235" x2="291" y2="235" stroke="#3a3839" stroke-width="0.8"/>
<rect x="357.4" y="216.4" width="3.2" height="66.5" rx="0" fill="#e9eaea" stroke="#3a3839" stroke-width="0.9"/>
<rect x="276.6" y="178.5" width="19.9" height="4.8" rx="1.5" fill="#e9eaea" stroke="#3a3839" stroke-width="1.0"/>
<line x1="281" y1="178.5" x2="281" y2="183.3" stroke="#3a3839" stroke-width="0.5"/>
<line x1="292" y1="178.5" x2="292" y2="183.3" stroke="#3a3839" stroke-width="0.5"/>
<rect x="280.9" y="174.5" width="11.3" height="4" rx="1" fill="#e9eaea" stroke="#3a3839" stroke-width="1.0"/>
<rect x="283.3" y="168.2" width="6.4" height="6.3" rx="1.5" fill="#e9eaea" stroke="#3a3839" stroke-width="1.0"/>
<line x1="276" y1="196.2" x2="297" y2="196.2" stroke="#3a3839" stroke-width="1.0"/>
<path d="M310.3,217 Q316,212.3 324.8,211.9 C336,217 338.5,226 333.3,232.2 L321.2,226.8 Z" fill="#e9eaea" stroke="#3a3839" stroke-width="0.9"/>
<path d="M310.3,279.3 Q316,285.5 326,286.5 C336,282 338.5,272 333.3,265 L321.2,267.2 Z" fill="#e9eaea" stroke="#3a3839" stroke-width="0.9"/>
<line x1="299" y1="225" x2="306" y2="225" stroke="#3a3839" stroke-width="0.6"/>
<line x1="299" y1="273" x2="306" y2="273" stroke="#3a3839" stroke-width="0.6"/>
<rect x="329" y="235.2" width="26.6" height="28.4" rx="2" fill="#e9eaea" stroke="#3a3839" stroke-width="1.0"/>
<circle cx="341.7" cy="249.1" r="9" fill="#e9eaea" stroke="#3a3839" stroke-width="1.1"/>
<circle cx="341.7" cy="249.1" r="7" fill="none" stroke="#3a3839" stroke-width="0.7"/>
<rect x="291" y="234" width="38.6" height="27.2" rx="1.5" fill="#e9eaea" stroke="#3a3839" stroke-width="1.0"/>
<path d="M291,234.5 L283,234.5 Q278.8,234.5 278.8,238.7 Q278.8,242.89999999999998 283,242.89999999999998 L291,242.89999999999998" fill="#e9eaea" stroke="#3a3839" stroke-width="0.9"/>
<rect x="285.5" y="235.7" width="3.3" height="6" rx="0.5" fill="#cfd0d0" stroke="#3a3839" stroke-width="0.7"/>
<path d="M291,248.10000000000002 L283,248.10000000000002 Q278.8,248.10000000000002 278.8,252.3 Q278.8,256.5 283,256.5 L291,256.5" fill="#e9eaea" stroke="#3a3839" stroke-width="0.9"/>
<rect x="285.5" y="249.3" width="3.3" height="6" rx="0.5" fill="#cfd0d0" stroke="#3a3839" stroke-width="0.7"/>
<rect x="280.5" y="258.8" width="11.5" height="2.6" rx="0.8" fill="#e9eaea" stroke="#3a3839" stroke-width="0.7"/>
<circle cx="315.8" cy="249.1" r="7.3" fill="#dcdddd" stroke="#3a3839" stroke-width="1.1"/>
<circle cx="315.8" cy="249.1" r="4.6" fill="none" stroke="#3a3839" stroke-width="0.8"/>
<circle cx="315.8" cy="249.1" r="2.2" fill="none" stroke="#3a3839" stroke-width="0.6"/>
<circle cx="307.9" cy="232.8" r="4.6" fill="#d6d7d7" stroke="#3a3839" stroke-width="1.0"/>
<circle cx="307.9" cy="232.8" r="2.76" fill="none" stroke="#3a3839" stroke-width="0.6"/>
<line x1="305.59999999999997" y1="230.5" x2="310.2" y2="235.10000000000002" stroke="#3a3839" stroke-width="0.5"/>
<line x1="305.59999999999997" y1="235.10000000000002" x2="310.2" y2="230.5" stroke="#3a3839" stroke-width="0.5"/>
<circle cx="323.6" cy="232.8" r="4.6" fill="#d6d7d7" stroke="#3a3839" stroke-width="1.0"/>
<circle cx="323.6" cy="232.8" r="2.76" fill="none" stroke="#3a3839" stroke-width="0.6"/>
<line x1="321.3" y1="230.5" x2="325.90000000000003" y2="235.10000000000002" stroke="#3a3839" stroke-width="0.5"/>
<line x1="321.3" y1="235.10000000000002" x2="325.90000000000003" y2="230.5" stroke="#3a3839" stroke-width="0.5"/>
<circle cx="307.9" cy="260" r="4.6" fill="#d6d7d7" stroke="#3a3839" stroke-width="1.0"/>
<circle cx="307.9" cy="260" r="2.76" fill="none" stroke="#3a3839" stroke-width="0.6"/>
<line x1="305.59999999999997" y1="257.7" x2="310.2" y2="262.3" stroke="#3a3839" stroke-width="0.5"/>
<line x1="305.59999999999997" y1="262.3" x2="310.2" y2="257.7" stroke="#3a3839" stroke-width="0.5"/>
<circle cx="323.6" cy="260" r="4.6" fill="#d6d7d7" stroke="#3a3839" stroke-width="1.0"/>
<circle cx="323.6" cy="260" r="2.76" fill="none" stroke="#3a3839" stroke-width="0.6"/>
<line x1="321.3" y1="257.7" x2="325.90000000000003" y2="262.3" stroke="#3a3839" stroke-width="0.5"/>
<line x1="321.3" y1="262.3" x2="325.90000000000003" y2="257.7" stroke="#3a3839" stroke-width="0.5"/>
<rect x="276.6" y="270" width="6.9" height="11.6" rx="1" fill="#e9eaea" stroke="#3a3839" stroke-width="0.9"/>
<circle cx="279.8" cy="272.8" r="1" fill="#333" stroke="#3a3839" stroke-width="0"/>
<line x1="341.7" y1="213" x2="341.7" y2="225" stroke="#555" stroke-width="0.6" stroke-dasharray="2 1"/>
<line x1="347" y1="213" x2="347" y2="225" stroke="#555" stroke-width="0.6" stroke-dasharray="2 1"/>
<line x1="350.7" y1="213" x2="350.7" y2="225" stroke="#555" stroke-width="0.6" stroke-dasharray="2 1"/>
<rect x="360.6" y="245.9" width="6.5" height="7.7" rx="0.5" fill="#e9eaea" stroke="#3a3839" stroke-width="0.9"/>
<rect x="366.9" y="243.4" width="17.1" height="11.1" rx="1.2" fill="#e9eaea" stroke="#3a3839" stroke-width="1.0"/>
<rect x="368" y="249.1" width="15" height="5.2" rx="0" fill="#9a9a9a" stroke="none" stroke-width="0"/>
<line x1="366.9" y1="249.1" x2="384" y2="249.1" stroke="#3a3839" stroke-width="0.5"/>
<line x1="268" y1="249.3" x2="420" y2="249.3" stroke="#5a5859" stroke-width="0.7" stroke-dasharray="7 1.6 1.2 1.6"/>
<line x1="286.4" y1="120" x2="286.4" y2="192" stroke="#5a5859" stroke-width="0.7" stroke-dasharray="7 1.6 1.2 1.6"/>
<line x1="315.7" y1="136.5" x2="315.7" y2="195.4" stroke="#5f5d5e" stroke-width="0.85"/>
<line x1="315.7" y1="195.4" x2="315.7" y2="262" stroke="#5a5859" stroke-width="0.7" stroke-dasharray="7 1.6 1.2 1.6"/>
<line x1="273" y1="276" x2="305" y2="276" stroke="#5a5859" stroke-width="0.7" stroke-dasharray="7 1.6 1.2 1.6"/>
</g>
<g transform="translate(6.8 480)">
<rect x="487.8" y="184" width="19.9" height="44" rx="1.2" fill="#e9eaea" stroke="#3a3839" stroke-width="1.0"/>
<line x1="487.8" y1="196" x2="507.7" y2="196" stroke="#3a3839" stroke-width="1.0"/>
<rect x="488.3" y="178.3" width="19" height="5.7" rx="1.5" fill="#e9eaea" stroke="#3a3839" stroke-width="1.0"/>
<line x1="492.6" y1="178.3" x2="492.6" y2="184" stroke="#3a3839" stroke-width="0.5"/>
<line x1="503" y1="178.3" x2="503" y2="184" stroke="#3a3839" stroke-width="0.5"/>
<rect x="492.5" y="174.2" width="10.5" height="4.1" rx="1" fill="#e9eaea" stroke="#3a3839" stroke-width="1.0"/>
<rect x="494.7" y="168.8" width="6.2" height="5.6" rx="1.5" fill="#e9eaea" stroke="#3a3839" stroke-width="1.0"/>
<path d="M493.3,227.6 L518,227.6 L518,264.7 L493.3,264.7 L491,262 L485.5,259.5 L485.5,233.6 L491,231 Z" fill="#e9eaea" stroke="#3a3839" stroke-width="1.0"/>
<path d="M493.5,242 L503,242 Q505.5,242 505.5,244.5 L505.5,254.5 Q505.5,257 503,257 L493.5,257" fill="none" stroke="#3a3839" stroke-width="0.8"/>
<path d="M485.5,242.2 L481,242.2 Q477.8,245 477.8,249.7 Q477.8,254.5 481,257.3 L485.5,257.3" fill="#e9eaea" stroke="#3a3839" stroke-width="0.9"/>
<circle cx="491.6" cy="234" r="1.9" fill="#e9eaea" stroke="#3a3839" stroke-width="0.8"/>
<circle cx="491.6" cy="260.3" r="1.9" fill="#e9eaea" stroke="#3a3839" stroke-width="0.8"/>
<path d="M597,233.9 L613,233.9 Q619.5,233.9 619.5,239 L619.5,243.5 L620.8,245 L620.8,253.5 L619.5,255 L619.5,259.5 Q619.5,264.4 613,264.4 L597,264.4 Z" fill="#e9eaea" stroke="#3a3839" stroke-width="1.0"/>
<circle cx="616.5" cy="239.2" r="1.8" fill="none" stroke="#3a3839" stroke-width="0.7"/>
<circle cx="616.5" cy="260" r="1.8" fill="none" stroke="#3a3839" stroke-width="0.7"/>
<line x1="605" y1="233.9" x2="605" y2="264.4" stroke="#3a3839" stroke-width="0.6"/>
<path d="M543.7,212.3 L548,204 L548,197.5 Q548,195.5 550,195.5 L565,195.5 Q567,195.5 567,197.5 L567,204 L571.1,212.3" fill="#e9eaea" stroke="#3a3839" stroke-width="1.0"/>
<line x1="548" y1="204" x2="567" y2="204" stroke="#3a3839" stroke-width="0.7"/>
<rect x="517.5" y="212.2" width="79.4" height="75.3" rx="3" fill="#3a3839" stroke="#3a3839" stroke-width="2.0"/>
<rect x="516.6" y="208.6" width="18" height="18" rx="8" fill="#3a3839" stroke="#3a3839" stroke-width="2.0"/>
<rect x="579.7" y="208.6" width="18" height="18" rx="8" fill="#3a3839" stroke="#3a3839" stroke-width="2.0"/>
<rect x="516.6" y="272.2" width="18" height="18" rx="8" fill="#3a3839" stroke="#3a3839" stroke-width="2.0"/>
<rect x="579.7" y="272.2" width="18" height="18" rx="8" fill="#3a3839" stroke="#3a3839" stroke-width="2.0"/>
<rect x="517.5" y="212.2" width="79.4" height="75.3" rx="3" fill="#e9eaea" stroke="none" stroke-width="0"/>
<rect x="516.6" y="208.6" width="18" height="18" rx="8" fill="#e9eaea" stroke="none" stroke-width="0"/>
<rect x="579.7" y="208.6" width="18" height="18" rx="8" fill="#e9eaea" stroke="none" stroke-width="0"/>
<rect x="516.6" y="272.2" width="18" height="18" rx="8" fill="#e9eaea" stroke="none" stroke-width="0"/>
<rect x="579.7" y="272.2" width="18" height="18" rx="8" fill="#e9eaea" stroke="none" stroke-width="0"/>
<circle cx="525.6" cy="217.6" r="3.2" fill="#f3f3f3" stroke="#3a3839" stroke-width="1.0"/>
<line x1="518.1" y1="217.6" x2="533.1" y2="217.6" stroke="#666" stroke-width="0.5" stroke-dasharray="2.5 1.2"/>
<line x1="525.6" y1="210.1" x2="525.6" y2="225.1" stroke="#666" stroke-width="0.5" stroke-dasharray="2.5 1.2"/>
<circle cx="588.7" cy="217.6" r="3.2" fill="#f3f3f3" stroke="#3a3839" stroke-width="1.0"/>
<line x1="581.2" y1="217.6" x2="596.2" y2="217.6" stroke="#666" stroke-width="0.5" stroke-dasharray="2.5 1.2"/>
<line x1="588.7" y1="210.1" x2="588.7" y2="225.1" stroke="#666" stroke-width="0.5" stroke-dasharray="2.5 1.2"/>
<circle cx="525.6" cy="281.2" r="3.2" fill="#f3f3f3" stroke="#3a3839" stroke-width="1.0"/>
<line x1="518.1" y1="281.2" x2="533.1" y2="281.2" stroke="#666" stroke-width="0.5" stroke-dasharray="2.5 1.2"/>
<line x1="525.6" y1="273.7" x2="525.6" y2="288.7" stroke="#666" stroke-width="0.5" stroke-dasharray="2.5 1.2"/>
<circle cx="588.7" cy="281.2" r="3.2" fill="#f3f3f3" stroke="#3a3839" stroke-width="1.0"/>
<line x1="581.2" y1="281.2" x2="596.2" y2="281.2" stroke="#666" stroke-width="0.5" stroke-dasharray="2.5 1.2"/>
<line x1="588.7" y1="273.7" x2="588.7" y2="288.7" stroke="#666" stroke-width="0.5" stroke-dasharray="2.5 1.2"/>
<circle cx="556.8" cy="249.5" r="33.6" fill="none" stroke="#3a3839" stroke-width="0.9"/>
<circle cx="556.8" cy="249.5" r="13.2" fill="#e9eaea" stroke="#3a3839" stroke-width="1.0"/>
<circle cx="556.8" cy="249.5" r="10.9" fill="none" stroke="#3a3839" stroke-width="0.8"/>
<circle cx="556.8" cy="249.5" r="4.6" fill="#e9eaea" stroke="#3a3839" stroke-width="1.0"/>
<circle cx="556.8" cy="249.5" r="2.0" fill="none" stroke="#3a3839" stroke-width="0.8"/>
<line x1="518" y1="241.4" x2="531" y2="241.4" stroke="#555" stroke-width="0.7" stroke-dasharray="2.2 1"/>
<line x1="584" y1="241.4" x2="597" y2="241.4" stroke="#555" stroke-width="0.7" stroke-dasharray="2.2 1"/>
<line x1="518" y1="257.7" x2="531" y2="257.7" stroke="#555" stroke-width="0.7" stroke-dasharray="2.2 1"/>
<line x1="584" y1="257.7" x2="597" y2="257.7" stroke="#555" stroke-width="0.7" stroke-dasharray="2.2 1"/>
<line x1="530.4" y1="241.4" x2="530.4" y2="257.7" stroke="#555" stroke-width="0.6" stroke-dasharray="1.5 1"/>
<line x1="585.3" y1="241.4" x2="585.3" y2="257.7" stroke="#555" stroke-width="0.6" stroke-dasharray="1.5 1"/>
<line x1="554.5" y1="212.5" x2="554.5" y2="221" stroke="#555" stroke-width="0.7" stroke-dasharray="2 1"/>
<line x1="559" y1="212.5" x2="559" y2="221" stroke="#555" stroke-width="0.7" stroke-dasharray="2 1"/>
<path d="M551,261 Q553,263.5 556.8,262 Q560.5,263.5 562.5,261" fill="none" stroke="#3a3839" stroke-width="0.7"/>
<line x1="500" y1="249.5" x2="625" y2="249.5" stroke="#5a5859" stroke-width="0.7" stroke-dasharray="7 1.6 1.2 1.6"/>
<line x1="556.8" y1="166" x2="556.8" y2="332" stroke="#5a5859" stroke-width="0.7" stroke-dasharray="7 1.6 1.2 1.6"/>
<line x1="497.7" y1="160" x2="497.7" y2="232" stroke="#5a5859" stroke-width="0.7" stroke-dasharray="7 1.6 1.2 1.6"/>
</g>
<text x="65" y="617.1" font-size="10.59" textLength="95.1" lengthAdjust="spacingAndGlyphs" fill="#231f20">Pressure adjustment</text>
<polyline points="62.1,621.4 169.3,621.4 187,647.1" fill="none" stroke="#5f5d5e" stroke-width="0.85"/>
<polygon points="187.00,647.10 182.49,636.85 179.03,639.23" fill="#231f20"/>
<path d="M72.96,628.08 A5.4,5.4 0 1 0 72.17,635.54" fill="none" stroke="#858383" stroke-width="0.95"/>
<polygon points="73.77,629.55 72.20,624.91 69.56,627.05" fill="#231f20"/>
<text x="80.7" y="635.7" font-size="10.59" textLength="74.3" lengthAdjust="spacingAndGlyphs" fill="#231f20">Higher pressure</text>
<path d="M72.17,640.96 A5.4,5.4 0 1 0 72.96,648.42" fill="none" stroke="#858383" stroke-width="0.95"/>
<polygon points="73.77,646.95 69.56,649.45 72.20,651.59" fill="#231f20"/>
<text x="80.7" y="649.1" font-size="10.59" textLength="71" lengthAdjust="spacingAndGlyphs" fill="#231f20">Lower pressure</text>
<line x1="63" y1="737" x2="63" y2="825" stroke="#5f5d5e" stroke-width="0.85"/>
<line x1="206.4" y1="738" x2="206.4" y2="825" stroke="#5f5d5e" stroke-width="0.85"/>
<line x1="187.9" y1="742" x2="187.9" y2="789" stroke="#5f5d5e" stroke-width="0.85"/>
<line x1="127.9" y1="777" x2="127.9" y2="807" stroke="#5f5d5e" stroke-width="0.85"/>
<line x1="127.9" y1="786.6" x2="187.9" y2="786.6" stroke="#5f5d5e" stroke-width="0.85"/>
<polygon points="127.90,786.60 134.20,787.85 134.20,785.35" fill="#231f20"/>
<polygon points="187.90,786.60 181.60,785.35 181.60,787.85" fill="#231f20"/>
<text x="157.3" y="782.9" font-size="10.27" text-anchor="middle" textLength="10.68" lengthAdjust="spacingAndGlyphs" fill="#231f20">85</text>
<line x1="63" y1="804.3" x2="127.9" y2="804.3" stroke="#5f5d5e" stroke-width="0.85"/>
<polygon points="63.00,804.30 69.30,805.55 69.30,803.05" fill="#231f20"/>
<polygon points="127.90,804.30 121.60,803.05 121.60,805.55" fill="#231f20"/>
<text x="95" y="800.9" font-size="10.27" text-anchor="middle" textLength="10.68" lengthAdjust="spacingAndGlyphs" fill="#231f20">92</text>
<line x1="127.9" y1="804.3" x2="206.4" y2="804.3" stroke="#5f5d5e" stroke-width="0.85"/>
<polygon points="127.90,804.30 134.20,805.55 134.20,803.05" fill="#231f20"/>
<polygon points="206.40,804.30 200.10,803.05 200.10,805.55" fill="#231f20"/>
<text x="168.6" y="800.9" font-size="10.59" text-anchor="middle" textLength="41.4" lengthAdjust="spacingAndGlyphs" fill="#231f20">Max. 113</text>
<line x1="63" y1="822" x2="206.4" y2="822" stroke="#5f5d5e" stroke-width="0.85"/>
<polygon points="63.00,822.00 69.30,823.25 69.30,820.75" fill="#231f20"/>
<polygon points="206.40,822.00 200.10,820.75 200.10,823.25" fill="#231f20"/>
<text x="136" y="818.6" font-size="10.59" text-anchor="middle" textLength="40.8" lengthAdjust="spacingAndGlyphs" fill="#231f20">Max. 205</text>
<line x1="190.7" y1="648.6" x2="243.6" y2="648.6" stroke="#5f5d5e" stroke-width="0.85"/>
<line x1="140.7" y1="674.9" x2="227" y2="674.9" stroke="#5f5d5e" stroke-width="0.85"/>
<line x1="213" y1="728.6" x2="243.6" y2="728.6" stroke="#5f5d5e" stroke-width="0.85"/>
<line x1="224.1" y1="674.9" x2="224.1" y2="728.6" stroke="#5f5d5e" stroke-width="0.85"/>
<polygon points="224.10,674.90 222.85,681.20 225.35,681.20" fill="#231f20"/>
<polygon points="224.10,728.60 225.35,722.30 222.85,722.30" fill="#231f20"/>
<text x="222.9" y="701" font-size="10.27" text-anchor="middle" textLength="19" lengthAdjust="spacingAndGlyphs" transform="rotate(-90 222.9 701)" fill="#231f20">77.5</text>
<line x1="241.3" y1="648.6" x2="241.3" y2="728.6" stroke="#5f5d5e" stroke-width="0.85"/>
<polygon points="241.30,648.60 240.05,654.90 242.55,654.90" fill="#231f20"/>
<polygon points="241.30,728.60 242.55,722.30 240.05,722.30" fill="#231f20"/>
<text x="239" y="689" font-size="10.59" text-anchor="middle" textLength="41.7" lengthAdjust="spacingAndGlyphs" transform="rotate(-90 239 689)" fill="#231f20">Max. 120</text>
<polyline points="333.8,814.6 236.8,814.6 207,729.5" fill="none" stroke="#5f5d5e" stroke-width="0.85"/>
<polygon points="207.00,729.50 208.65,740.58 212.62,739.19" fill="#231f20"/>
<text x="241.7" y="809.6" font-size="10.59" textLength="90" lengthAdjust="spacingAndGlyphs" fill="#231f20">Volume adjustment</text>
<path d="M254.56,821.28 A5.4,5.4 0 1 0 253.77,828.74" fill="none" stroke="#858383" stroke-width="0.95"/>
<polygon points="255.37,822.75 253.80,818.11 251.16,820.25" fill="#231f20"/>
<text x="259.7" y="828.3" font-size="10.59" textLength="34.12" lengthAdjust="spacingAndGlyphs" fill="#231f20">Reduce</text>
<path d="M253.77,833.96 A5.4,5.4 0 1 0 254.56,841.42" fill="none" stroke="#858383" stroke-width="0.95"/>
<polygon points="255.37,839.95 251.16,842.45 253.80,844.59" fill="#231f20"/>
<text x="259.7" y="841.8" font-size="10.59" textLength="37.97" lengthAdjust="spacingAndGlyphs" fill="#231f20">Increase</text>
<text x="173.8" y="584.8" font-size="10.59" textLength="72.3" lengthAdjust="spacingAndGlyphs" fill="#231f20">Case drain port</text>
<text x="183.2" y="599.9" font-size="10.59" textLength="52.5" lengthAdjust="spacingAndGlyphs" fill="#231f20">PT 1/4 (DR)</text>
<polyline points="170.7,589.5 252.4,589.5 334.5,689.2" fill="none" stroke="#5f5d5e" stroke-width="0.85"/>
<polygon points="334.50,689.20 329.13,679.37 325.89,682.04" fill="#231f20"/>
<line x1="264" y1="585" x2="264" y2="650" stroke="#5f5d5e" stroke-width="0.85"/>
<line x1="370.8" y1="585" x2="370.8" y2="722" stroke="#5f5d5e" stroke-width="0.85"/>
<line x1="343.5" y1="617" x2="343.5" y2="689" stroke="#5f5d5e" stroke-width="0.85"/>
<line x1="264" y1="588.9" x2="370.8" y2="588.9" stroke="#5f5d5e" stroke-width="0.85"/>
<polygon points="264.00,588.90 270.30,590.15 270.30,587.65" fill="#231f20"/>
<polygon points="370.80,588.90 364.50,587.65 364.50,590.15" fill="#231f20"/>
<text x="317.4" y="585.7" font-size="10.27" text-anchor="middle" textLength="16.02" lengthAdjust="spacingAndGlyphs" fill="#231f20">153</text>
<line x1="274.4" y1="605.5" x2="370.8" y2="605.5" stroke="#5f5d5e" stroke-width="0.85"/>
<polygon points="274.40,605.50 280.70,606.75 280.70,604.25" fill="#231f20"/>
<polygon points="370.80,605.50 364.50,604.25 364.50,606.75" fill="#231f20"/>
<text x="322.1" y="602" font-size="10.27" text-anchor="middle" textLength="16.02" lengthAdjust="spacingAndGlyphs" fill="#231f20">138</text>
<line x1="303.3" y1="620.3" x2="343.5" y2="620.3" stroke="#5f5d5e" stroke-width="0.85"/>
<polygon points="303.30,620.30 309.60,621.55 309.60,619.05" fill="#231f20"/>
<polygon points="343.50,620.30 337.20,619.05 337.20,621.55" fill="#231f20"/>
<line x1="343.5" y1="620.3" x2="370.8" y2="620.3" stroke="#5f5d5e" stroke-width="0.85"/>
<polygon points="343.50,620.30 349.80,621.55 349.80,619.05" fill="#231f20"/>
<polygon points="370.80,620.30 364.50,619.05 364.50,621.55" fill="#231f20"/>
<text x="325.3" y="617.8" font-size="10.27" text-anchor="middle" textLength="10.68" lengthAdjust="spacingAndGlyphs" fill="#231f20">59</text>
<text x="357.3" y="617.8" font-size="10.27" text-anchor="middle" textLength="10.68" lengthAdjust="spacingAndGlyphs" fill="#231f20">37</text>
<line x1="328.4" y1="638" x2="328.4" y2="691" stroke="#5f5d5e" stroke-width="0.85"/>
<line x1="334.7" y1="656" x2="334.7" y2="691" stroke="#5f5d5e" stroke-width="0.85"/>
<line x1="319" y1="641.7" x2="350.4" y2="641.7" stroke="#5f5d5e" stroke-width="0.85"/>
<polygon points="328.40,641.70 322.10,640.45 322.10,642.95" fill="#231f20"/>
<polygon points="343.50,641.70 349.80,642.95 349.80,640.45" fill="#231f20"/>
<text x="333.8" y="639.1" font-size="10.27" text-anchor="middle" textLength="18.6" lengthAdjust="spacingAndGlyphs" fill="#231f20">22.5</text>
<line x1="323.7" y1="659.6" x2="350.4" y2="659.6" stroke="#5f5d5e" stroke-width="0.85"/>
<polygon points="334.70,659.60 328.40,658.35 328.40,660.85" fill="#231f20"/>
<polygon points="343.50,659.60 349.80,660.85 349.80,658.35" fill="#231f20"/>
<text x="336.3" y="653.3" font-size="10.27" text-anchor="middle" textLength="10.68" lengthAdjust="spacingAndGlyphs" fill="#231f20">14</text>
<polyline points="416.8,631.6 363.7,721.9" fill="none" stroke="#5f5d5e" stroke-width="0.85"/>
<polygon points="363.70,721.90 371.09,713.48 367.47,711.35" fill="#231f20"/>
<line x1="346.4" y1="691.1" x2="428.6" y2="691.1" stroke="#5f5d5e" stroke-width="0.85"/>
<line x1="413.6" y1="728.6" x2="428.6" y2="728.6" stroke="#5f5d5e" stroke-width="0.85"/>
<line x1="347" y1="695.4" x2="411.4" y2="695.4" stroke="#5f5d5e" stroke-width="0.85"/>
<line x1="347" y1="762.1" x2="411.4" y2="762.1" stroke="#5f5d5e" stroke-width="0.85"/>
<line x1="427.1" y1="691.1" x2="427.1" y2="728.6" stroke="#5f5d5e" stroke-width="0.85"/>
<polygon points="427.10,691.10 425.85,697.40 428.35,697.40" fill="#231f20"/>
<polygon points="427.10,728.60 428.35,722.30 425.85,722.30" fill="#231f20"/>
<text x="424" y="710" font-size="10.27" text-anchor="middle" textLength="10.68" lengthAdjust="spacingAndGlyphs" transform="rotate(-90 424 710)" fill="#231f20">53</text>
<line x1="410" y1="695.4" x2="410" y2="762.1" stroke="#5f5d5e" stroke-width="0.85"/>
<polygon points="410.00,695.40 408.75,701.70 411.25,701.70" fill="#231f20"/>
<polygon points="410.00,762.10 411.25,755.80 408.75,755.80" fill="#231f20"/>
<text x="406.5" y="733.2" font-size="10.59" text-anchor="middle" textLength="31" lengthAdjust="spacingAndGlyphs" transform="rotate(-90 406.5 733.2)" fill="#231f20">⌀ 95.02</text>
<text x="401.5" y="707.5" font-size="6.42" text-anchor="middle" textLength="6.84" lengthAdjust="spacingAndGlyphs" transform="rotate(-90 401.5 707.5)" fill="#231f20">+0</text>
<text x="407" y="707.5" font-size="6.42" text-anchor="middle" textLength="15.18" lengthAdjust="spacingAndGlyphs" transform="rotate(-90 407 707.5)" fill="#231f20">−0.04</text>
<line x1="370.7" y1="722.9" x2="392" y2="722.9" stroke="#5f5d5e" stroke-width="0.85"/>
<line x1="370.7" y1="734" x2="392" y2="734" stroke="#5f5d5e" stroke-width="0.85"/>
<line x1="390.3" y1="710.7" x2="390.3" y2="746.4" stroke="#5f5d5e" stroke-width="0.85"/>
<polygon points="390.30,722.90 391.55,716.60 389.05,716.60" fill="#231f20"/>
<polygon points="390.30,734.00 389.05,740.30 391.55,740.30" fill="#231f20"/>
<text x="385.5" y="708.9" font-size="6.96" text-anchor="middle" textLength="23.5" lengthAdjust="spacingAndGlyphs" transform="rotate(-90 385.5 708.9)" fill="#231f20">⌀15.875</text>
<line x1="351.4" y1="712" x2="351.4" y2="742" stroke="#5f5d5e" stroke-width="0.85"/>
<polygon points="351.40,725.40 352.65,719.10 350.15,719.10" fill="#231f20"/>
<polygon points="351.40,733.10 350.15,739.40 352.65,739.40" fill="#231f20"/>
<text x="352.8" y="703.9" font-size="6.63" text-anchor="middle" textLength="13.5" lengthAdjust="spacingAndGlyphs" transform="rotate(-90 352.8 703.9)" fill="#231f20">⌀11.6</text>
<line x1="353.6" y1="734" x2="353.6" y2="756" stroke="#5f5d5e" stroke-width="0.85"/>
<line x1="370.7" y1="734" x2="370.7" y2="756" stroke="#5f5d5e" stroke-width="0.85"/>
<line x1="353.6" y1="753.1" x2="370.7" y2="753.1" stroke="#5f5d5e" stroke-width="0.85"/>
<polygon points="353.60,753.10 359.90,754.35 359.90,751.85" fill="#231f20"/>
<polygon points="370.70,753.10 364.40,751.85 364.40,754.35" fill="#231f20"/>
<text x="362.1" y="750" font-size="10.27" text-anchor="middle" textLength="10.68" lengthAdjust="spacingAndGlyphs" fill="#231f20">25</text>
<line x1="336" y1="768" x2="336" y2="782" stroke="#5f5d5e" stroke-width="0.85"/>
<line x1="344.7" y1="768" x2="344.7" y2="782" stroke="#5f5d5e" stroke-width="0.85"/>
<line x1="347.5" y1="762" x2="347.5" y2="782" stroke="#5f5d5e" stroke-width="0.85"/>
<line x1="322" y1="779.3" x2="360" y2="779.3" stroke="#5f5d5e" stroke-width="0.85"/>
<polygon points="336.00,779.30 329.70,778.05 329.70,780.55" fill="#231f20"/>
<polygon points="344.70,779.30 351.00,780.55 351.00,778.05" fill="#231f20"/>
<polygon points="347.50,779.30 353.80,780.55 353.80,778.05" fill="#231f20"/>
<text x="328.9" y="776.5" font-size="10.27" text-anchor="middle" textLength="10.68" lengthAdjust="spacingAndGlyphs" fill="#231f20">12</text>
<text x="356.4" y="776.4" font-size="10.27" text-anchor="middle" textLength="5.34" lengthAdjust="spacingAndGlyphs" fill="#231f20">4</text>
<line x1="450" y1="689.1" x2="524" y2="689.1" stroke="#5f5d5e" stroke-width="0.85"/>
<line x1="465" y1="696.7" x2="530" y2="696.7" stroke="#5f5d5e" stroke-width="0.85"/>
<line x1="450" y1="768" x2="524" y2="768" stroke="#5f5d5e" stroke-width="0.85"/>
<line x1="465" y1="760" x2="530" y2="760" stroke="#5f5d5e" stroke-width="0.85"/>
<line x1="454.9" y1="689.1" x2="454.9" y2="768" stroke="#5f5d5e" stroke-width="0.85"/>
<polygon points="454.90,689.10 453.65,695.40 456.15,695.40" fill="#231f20"/>
<polygon points="454.90,768.00 456.15,761.70 453.65,761.70" fill="#231f20"/>
<text x="452.2" y="729" font-size="10.27" text-anchor="middle" textLength="15.31" lengthAdjust="spacingAndGlyphs" transform="rotate(-90 452.2 729)" fill="#231f20">114</text>
<line x1="472.7" y1="696.7" x2="472.7" y2="760" stroke="#5f5d5e" stroke-width="0.85"/>
<polygon points="472.70,696.70 471.45,703.00 473.95,703.00" fill="#231f20"/>
<polygon points="472.70,760.00 473.95,753.70 471.45,753.70" fill="#231f20"/>
<text x="470.2" y="731" font-size="10.59" text-anchor="middle" textLength="16.99" lengthAdjust="spacingAndGlyphs" transform="rotate(-90 470.2 731)" fill="#231f20">□90</text>
<line x1="524.1" y1="769" x2="524.1" y2="794" stroke="#5f5d5e" stroke-width="0.85"/>
<line x1="605.3" y1="769" x2="605.3" y2="794" stroke="#5f5d5e" stroke-width="0.85"/>
<line x1="518.8" y1="742" x2="518.8" y2="813" stroke="#5f5d5e" stroke-width="0.85"/>
<line x1="609" y1="748" x2="609" y2="813" stroke="#5f5d5e" stroke-width="0.85"/>
<line x1="564.1" y1="780" x2="564.1" y2="813" stroke="#5f5d5e" stroke-width="0.85"/>
<line x1="524.1" y1="791.6" x2="605.3" y2="791.6" stroke="#5f5d5e" stroke-width="0.85"/>
<polygon points="524.10,791.60 530.40,792.85 530.40,790.35" fill="#231f20"/>
<polygon points="605.30,791.60 599.00,790.35 599.00,792.85" fill="#231f20"/>
<text x="564.4" y="788.6" font-size="10.27" text-anchor="middle" textLength="15.31" lengthAdjust="spacingAndGlyphs" fill="#231f20">113</text>
<line x1="518.8" y1="810.1" x2="564.1" y2="810.1" stroke="#5f5d5e" stroke-width="0.85"/>
<polygon points="518.80,810.10 525.10,811.35 525.10,808.85" fill="#231f20"/>
<polygon points="564.10,810.10 557.80,808.85 557.80,811.35" fill="#231f20"/>
<line x1="564.1" y1="810.1" x2="609" y2="810.1" stroke="#5f5d5e" stroke-width="0.85"/>
<polygon points="564.10,810.10 570.40,811.35 570.40,808.85" fill="#231f20"/>
<polygon points="609.00,810.10 602.70,808.85 602.70,811.35" fill="#231f20"/>
<text x="545.9" y="807.2" font-size="10.27" text-anchor="middle" textLength="10.68" lengthAdjust="spacingAndGlyphs" fill="#231f20">65</text>
<text x="588.6" y="807.2" font-size="10.27" text-anchor="middle" textLength="10.68" lengthAdjust="spacingAndGlyphs" fill="#231f20">65</text>
<text x="617.6" y="661" font-size="10.59" textLength="56.5" lengthAdjust="spacingAndGlyphs" fill="#231f20">4-⌀11 Holes</text>
<text x="617.6" y="674.2" font-size="10.59" textLength="57" lengthAdjust="spacingAndGlyphs" fill="#231f20">2-M12xP1.75</text>
<polyline points="678.2,664.7 614.3,664.7 597.3,690.5" fill="none" stroke="#5f5d5e" stroke-width="0.85"/>
<polygon points="597.30,690.50 605.11,682.47 601.60,680.16" fill="#231f20"/>
<text x="632" y="773.7" font-size="14" font-weight="bold" textLength="41.3" lengthAdjust="spacingAndGlyphs" fill="#231f20">Outlet</text>
<text x="635" y="788.6" font-size="10.59" textLength="28.99" lengthAdjust="spacingAndGlyphs" fill="#231f20">PT 1/2</text>
<polyline points="675.7,776.9 627.9,776.9 610.7,730" fill="none" stroke="#5f5d5e" stroke-width="0.85"/>
<polygon points="610.70,730.00 612.52,741.05 616.46,739.60" fill="#231f20"/>
<text x="450.4" y="791.6" font-size="14" font-weight="bold" textLength="28.6" lengthAdjust="spacingAndGlyphs" fill="#231f20">Inlet</text>
<text x="450.4" y="805.3" font-size="10.59" textLength="28.99" lengthAdjust="spacingAndGlyphs" fill="#231f20">PT 3/4</text>
<polyline points="444.8,795 487,795 516.5,731" fill="none" stroke="#5f5d5e" stroke-width="0.85"/>
<polygon points="516.50,731.00 509.99,740.11 513.80,741.87" fill="#231f20"/>
<rect x="416.5" y="487" width="99.5" height="144" fill="#eef0ea"/>
<line x1="416.5" y1="510.9" x2="624" y2="510.9" stroke="#acd5ae" stroke-width="1.4"/>
<line x1="416.5" y1="534.9" x2="624" y2="534.9" stroke="#acd5ae" stroke-width="1.4"/>
<line x1="416.5" y1="559.1" x2="624" y2="559.1" stroke="#acd5ae" stroke-width="1.4"/>
<line x1="416.5" y1="583.3" x2="624" y2="583.3" stroke="#acd5ae" stroke-width="1.4"/>
<line x1="416.5" y1="607.1" x2="624" y2="607.1" stroke="#acd5ae" stroke-width="1.4"/>
<line x1="416.5" y1="486.8" x2="624" y2="486.8" stroke="#3d9a4a" stroke-width="1.7"/>
<line x1="416.5" y1="631.4" x2="624" y2="631.4" stroke="#3d9a4a" stroke-width="1.7"/>
<line x1="516.6" y1="486" x2="516.6" y2="632" stroke="#3d9a4a" stroke-width="1.3"/>
<text x="424" y="478" font-size="10.59" textLength="120.7" lengthAdjust="spacingAndGlyphs" fill="#231f20">ANSI B92.1 CLASS 5</text>
<text x="424.6" y="503.3" font-size="11.2" font-weight="bold" fill="#231f20">Module</text>
<text x="424.6" y="527.5" font-size="11.2" font-weight="bold" fill="#231f20">Pressure angle</text>
<text x="424.6" y="552" font-size="11.2" font-weight="bold" fill="#231f20">No.of teeth</text>
<text x="424.6" y="575.5" font-size="11.2" font-weight="bold" fill="#231f20">Pitch DIA.</text>
<text x="424.6" y="599.5" font-size="11.2" font-weight="bold" fill="#231f20">Max. DIA.</text>
<text x="424.6" y="623.6" font-size="11.2" font-weight="bold" fill="#231f20">Min. DIA.</text>
<text x="545" y="503.6" font-size="11.98" textLength="51.1" lengthAdjust="spacingAndGlyphs" fill="#231f20">D.P.16/32</text>
<text x="562.5" y="527.5" font-size="11.98" textLength="17.5" lengthAdjust="spacingAndGlyphs" fill="#231f20">30˚</text>
<text x="570.2" y="552.2" font-size="14.5" text-anchor="middle" font-weight="bold" fill="#231f20">9</text>
<text x="545.9" y="575.3" font-size="11.98" textLength="48.8" lengthAdjust="spacingAndGlyphs" fill="#231f20">⌀14.2875</text>
<text x="537.6" y="599.3" font-size="11.98" textLength="42" lengthAdjust="spacingAndGlyphs" fill="#231f20">⌀15.875</text>
<text x="584.5" y="592.6" font-size="8.03" textLength="8.55" lengthAdjust="spacingAndGlyphs" fill="#231f20">+0</text>
<text x="584.5" y="603" font-size="8.03" textLength="22.7" lengthAdjust="spacingAndGlyphs" fill="#231f20">−0.05</text>
<text x="533" y="623.6" font-size="11.98" textLength="71.8" lengthAdjust="spacingAndGlyphs" fill="#231f20">⌀11.811 MAX.</text>
</svg></body></html>
